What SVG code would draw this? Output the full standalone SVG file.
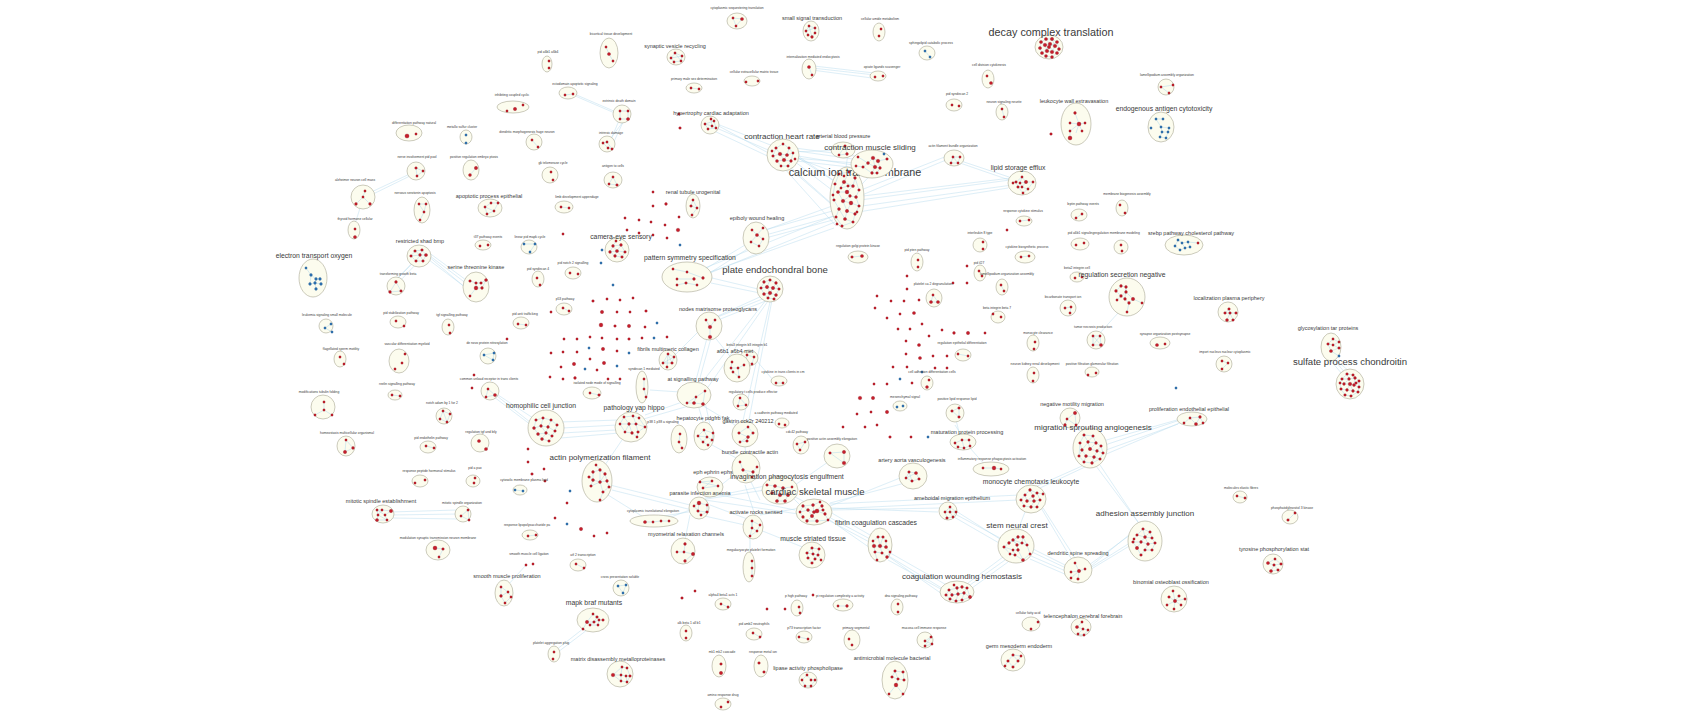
<svg xmlns="http://www.w3.org/2000/svg" width="1685" height="718" viewBox="0 0 1685 718">
<style>
.c{fill:#fcfcee;stroke:#aaa893;stroke-width:.6}
.r{fill:#c61d2b;stroke:#7d0e14;stroke-width:.25}
.b{fill:#2f74b5;stroke:#1b4d7e;stroke-width:.25}
.e{stroke:#a8d4ea;stroke-width:.45;fill:none;opacity:.85}
.i{stroke:#a8d4ea;stroke-width:.45;fill:none}
text{font-family:"Liberation Sans",Arial,sans-serif;fill:#3a3a3a;text-anchor:middle}
.s{font-size:3.3px}.m{font-size:5.5px}.l{font-size:6.8px}.x{font-size:8px}.y{font-size:9.6px}.z{font-size:10.8px}
</style>
<rect width="1685" height="718" fill="#fff"/>
<g id="connectors" class="e">
<path d="M712,122L778,148M714,127L780,155M712,130L776,160M715,124L785,162"/>
<path d="M786,150L840,185M790,158L845,200M780,160L838,210M788,165L850,220M775,150L842,175M792,152L848,190M784,168L836,226"/>
<path d="M790,150L860,160M792,155L865,167M795,148L870,158M788,160L875,170M793,158L880,165"/>
<path d="M850,185L868,165M852,195L875,170M853,178L860,162"/>
<path d="M860,200L1010,180M862,206L1012,185M858,212L1008,188M863,196L1011,178"/>
<path d="M958,160L1012,178M960,163L1015,182M862,195L946,160M861,190L947,156"/>
<path d="M845,150L790,152M848,153L845,175"/>
<path d="M812,68L875,75M812,70L872,78M814,66L874,73"/>
<path d="M572,93L616,112M573,95L617,114"/>
<path d="M620,118L610,142M624,120L612,146M626,118L604,147"/>
<path d="M835,205L760,232M838,215L762,236M833,220L758,240M836,210L765,230"/>
<path d="M836,215L700,270M835,222L705,275M834,228L710,272"/>
<path d="M750,242L700,272M752,246L705,276M712,278L758,289M711,283L760,293"/>
<path d="M765,298L715,318M768,300L713,322M762,296L718,316"/>
<path d="M766,300L700,385M770,302L742,425M772,300L748,425M768,301L706,390"/>
<path d="M700,330L675,355M713,335L733,360M711,338L698,385M707,338L695,384"/>
<path d="M698,405L704,425M692,405L640,420M700,404L740,428M688,400L645,415M705,402L710,425"/>
<path d="M617,425L562,428M616,430L562,433M618,420L560,422M619,433L561,438"/>
<path d="M533,418L495,393M530,422L497,396M531,425L494,397"/>
<path d="M428,252L466,280M430,256L467,284M429,260L465,287M427,255L468,290"/>
<path d="M396,280L414,262M399,282L418,262M393,283L412,263"/>
<path d="M365,195L414,172M365,198L416,173M361,205L355,224"/>
<path d="M390,512L457,510M392,518L459,519M391,515L458,514"/>
<path d="M526,565L508,585M584,628L556,650M587,630L558,652"/>
<path d="M825,515L872,540M828,520L875,545M830,512L870,535M827,518L873,550"/>
<path d="M830,506L900,478M832,510L940,508M830,503L905,483M831,508L938,512M829,504L1020,495M830,509L1018,500"/>
<path d="M800,505L790,495M805,502L795,497"/>
<path d="M887,555L945,590M888,560L948,593M885,550L950,587M889,557L942,594"/>
<path d="M955,514L1000,538M956,511L1003,541M954,517L999,543"/>
<path d="M1032,552L1066,568M1031,556L1068,572M1033,549L1065,565M1030,559L1067,575"/>
<path d="M1089,565L1130,535M1090,568L1133,541M1088,571L1131,545M1091,566L1135,530"/>
<path d="M1005,560L970,585M1008,562L972,588M1003,557L968,583"/>
<path d="M1025,512L1018,530M1043,508L1075,558M1040,506L1072,560"/>
<path d="M1085,430L1073,425M1082,432L1075,428"/>
<path d="M1105,445L1180,420M1106,450L1178,424M1104,455L1182,422M1103,441L1184,418"/>
<path d="M1082,466L1035,487M1085,467L1040,488M1100,465L1140,525M1096,466L1138,522"/>
<path d="M1118,313L1100,333M1333,358L1345,373M1336,360L1350,372M1330,360L1343,375"/>
<path d="M960,436L956,420M970,448L985,465M955,425L962,436"/>
<path d="M750,480L760,500M700,500L765,490M705,498L770,485M640,520L700,510M760,515L800,508M710,505L750,520M745,485L755,515M715,490L740,470M720,495L795,510M705,500L805,515M690,510L660,521"/>
<path d="M605,465L622,440M610,485L690,505M612,490L692,510M608,495L645,518"/>
<path d="M712,445L740,460M745,447L746,455M795,485L828,462M756,360L773,380M650,390L680,392"/>
<path d="M750,535L750,553M760,530L805,548M690,515L685,540M700,515L745,525"/>
</g>
<g id="singletons" class="r">
<circle cx="679" cy="114" r="1.3"/><circle cx="680" cy="128" r="1.3"/>
<circle cx="653" cy="192" r="1.2"/><circle cx="666" cy="204" r="1.4"/><circle cx="653" cy="206" r="1.2"/><circle cx="679" cy="217" r="1.2"/><circle cx="625" cy="218" r="1.2"/><circle cx="639" cy="220" r="1.2"/><circle cx="651" cy="222" r="1.2"/><circle cx="665" cy="225" r="1.2"/><circle cx="627" cy="230" r="1.2"/><circle cx="639" cy="233" r="1.2"/><circle cx="678" cy="230" r="1.8"/><circle cx="653" cy="235" r="1.2"/><circle cx="667" cy="238" r="1.2"/><circle cx="563" cy="234" r="1.2"/>
<circle cx="593" cy="301" r="1.3"/><circle cx="607" cy="299" r="1.2"/><circle cx="620" cy="300" r="1.2"/><circle cx="633" cy="298" r="1.2"/><circle cx="551" cy="312" r="1.2"/><circle cx="602" cy="312" r="1.7"/><circle cx="617" cy="312" r="1.2"/><circle cx="630" cy="312" r="1.2"/><circle cx="646" cy="311" r="1.3"/><circle cx="601" cy="325" r="1.9"/><circle cx="615" cy="326" r="1.3"/><circle cx="629" cy="326" r="1.7"/><circle cx="645" cy="327" r="1.2"/><circle cx="564" cy="339" r="1.2"/><circle cx="577" cy="339" r="1.2"/><circle cx="590" cy="337" r="1.2"/><circle cx="602" cy="338" r="1.2"/><circle cx="617" cy="339" r="1.2"/><circle cx="629" cy="339" r="1.3"/><circle cx="642" cy="338" r="1.2"/><circle cx="667" cy="337" r="1.2"/><circle cx="551" cy="353" r="1.2"/><circle cx="563" cy="352" r="1.2"/><circle cx="577" cy="352" r="1.2"/><circle cx="603" cy="349" r="1.7"/><circle cx="617" cy="351" r="1.2"/><circle cx="590" cy="359" r="1.2"/><circle cx="604" cy="363" r="1.7"/><circle cx="574" cy="364" r="1.7"/><circle cx="561" cy="367" r="1.2"/><circle cx="597" cy="370" r="1.2"/><circle cx="550" cy="377" r="1.2"/><circle cx="563" cy="379" r="1.2"/><circle cx="575" cy="378" r="1.4"/><circle cx="608" cy="379" r="1.2"/><circle cx="620" cy="379" r="1.2"/>
<circle class="b" cx="602" cy="250" r="1.2"/><circle class="b" cx="601" cy="263" r="1.2"/><circle class="b" cx="680" cy="245" r="1.2"/><circle class="b" cx="613" cy="285" r="1.2"/><circle class="b" cx="657" cy="323" r="1.2"/><circle class="b" cx="654" cy="338" r="1.2"/><circle class="b" cx="589" cy="348" r="1.2"/><circle class="b" cx="629" cy="353" r="1.2"/><circle class="b" cx="585" cy="369" r="1.2"/><circle class="b" cx="617" cy="366" r="1.2"/>
<circle cx="507" cy="339" r="1.2"/><circle cx="474" cy="375" r="1.2"/><circle cx="472" cy="388" r="1.2"/><circle cx="528" cy="449" r="1.2"/><circle cx="528" cy="462" r="1.2"/><circle cx="544" cy="469" r="1.2"/><circle cx="532" cy="474" r="1.3"/><circle cx="545" cy="481" r="1.2"/>
<circle cx="567" cy="503" r="1.2"/><circle cx="555" cy="518" r="1.2"/><circle cx="581" cy="529" r="1.7"/><circle cx="594" cy="536" r="1.2"/><circle cx="607" cy="533" r="1.2"/><circle class="b" cx="570" cy="491" r="1.2"/><circle class="b" cx="567" cy="524" r="1.2"/>
<circle cx="682" cy="598" r="1.3"/><circle cx="695" cy="591" r="1.2"/><circle cx="767" cy="609" r="1.2"/><circle cx="785" cy="609" r="1.2"/><circle cx="813" cy="595" r="1.2"/><circle cx="843" cy="427" r="1.2"/>
<circle cx="1051" cy="134" r="1.3"/><circle cx="1007" cy="230" r="1.2"/>
<circle cx="967" cy="266" r="1.2"/><circle cx="907" cy="276" r="1.2"/><circle cx="953" cy="283" r="1.2"/><circle cx="967" cy="283" r="1.2"/><circle cx="907" cy="289" r="1.2"/><circle cx="877" cy="296" r="1.2"/><circle cx="891" cy="301" r="1.2"/><circle cx="904" cy="301" r="1.2"/><circle cx="919" cy="300" r="1.2"/><circle cx="875" cy="308" r="1.2"/><circle cx="900" cy="314" r="1.2"/><circle cx="914" cy="313" r="1.6"/><circle cx="887" cy="318" r="1.2"/><circle cx="922" cy="324" r="1.2"/><circle cx="898" cy="329" r="1.2"/><circle cx="910" cy="329" r="1.2"/><circle cx="942" cy="330" r="1.2"/><circle cx="954" cy="333" r="1.4"/><circle cx="968" cy="333" r="1.7"/><circle cx="985" cy="333" r="1.2"/><circle cx="906" cy="341" r="1.2"/><circle cx="919" cy="345" r="1.6"/><circle cx="929" cy="336" r="1.2"/><circle cx="906" cy="354" r="1.2"/><circle cx="920" cy="358" r="1.6"/><circle cx="933" cy="356" r="1.2"/><circle cx="947" cy="356" r="1.2"/><circle cx="893" cy="367" r="1.2"/><circle cx="907" cy="367" r="1.2"/><circle cx="935" cy="368" r="1.2"/><circle cx="947" cy="368" r="1.2"/><circle cx="874" cy="384" r="1.2"/><circle cx="887" cy="384" r="1.2"/><circle cx="912" cy="383" r="1.2"/><circle cx="860" cy="398" r="1.8"/><circle cx="873" cy="398" r="1.7"/><circle cx="887" cy="412" r="1.7"/><circle cx="857" cy="414" r="1.2"/><circle cx="871" cy="412" r="1.2"/><circle cx="877" cy="425" r="1.2"/><circle cx="865" cy="427" r="1.2"/><circle cx="890" cy="437" r="1.3"/><circle cx="911" cy="437" r="1.2"/>
<circle class="b" cx="900" cy="379" r="1.2"/><circle class="b" cx="922" cy="372" r="1.2"/><circle class="b" cx="928" cy="437" r="1.2"/><circle class="b" cx="1176" cy="388" r="1.2"/>
</g>
<g id="n1"><ellipse class="c" cx="737" cy="21" rx="10" ry="8"/><g class="r" transform="translate(737,21)"><path class="i" d="M-4-3L5-2L-1,5Z"/><circle cx="-4" cy="-3" r="1.2"/><circle cx="5" cy="-2" r="1.6"/><circle cx="-1" cy="5" r="1.2"/></g><text class="s" x="737" y="9">cytoplasmic sequestering translation</text></g>
<g id="n2"><ellipse class="c" cx="811" cy="31" rx="8" ry="10"/><g class="r" transform="translate(811,31)"><path class="i" d="M-2-5L4-3L4,2L1,6L-3,4L-5,0ZM-2-5L1,6M4-3L-5,0"/><circle cx="-2" cy="-5" r="1.2"/><circle cx="4" cy="-3" r="1.2"/><circle cx="-5" cy="0" r="1.2"/><circle cx="4" cy="2" r="1.2"/><circle cx="1" cy="6" r="1.4"/><circle cx="-3" cy="4" r="1.2"/></g><text class="m" x="812" y="20">small signal transduction</text></g>
<g id="n3"><ellipse class="c" cx="609" cy="53" rx="9" ry="15"/><g class="r" transform="translate(609,53)"><path class="i" d="M-3-6L0,1L4,8"/><circle cx="-3" cy="-6" r="1.2"/><circle cx="0" cy="1" r="1.6"/><circle cx="4" cy="8" r="1.2"/></g><text class="s" x="611" y="35">bicortical tissue development</text></g>
<g id="n4"><ellipse class="c" cx="676" cy="57" rx="9" ry="8"/><g class="r" transform="translate(676,57)"><path class="i" d="M-1-4L6-1L5,4L-2,5L-5,1ZM-1-4L5,4M6-1L-5,1"/><circle cx="-1" cy="-4" r="1.2"/><circle cx="6" cy="-1" r="1.2"/><circle cx="-5" cy="1" r="1.2"/><circle cx="5" cy="4" r="1.2"/><circle cx="-2" cy="5" r="1.2"/></g><text class="m" x="675" y="48">synaptic vesicle recycling</text></g>
<g id="n5"><ellipse class="c" cx="809" cy="69" rx="7" ry="10"/><g class="r" transform="translate(809,69)"><path class="i" d="M0-2L3,6"/><circle cx="0" cy="-2" r="1.6"/><circle cx="3" cy="6" r="1.2"/></g><text class="s" x="813" y="58">internalization mediated endocytosis</text></g>
<g id="n6"><ellipse class="c" cx="752" cy="81" rx="8" ry="5"/><g class="r" transform="translate(752,81)"><circle cx="-6" cy="1" r="1.2"/><circle cx="6" cy="0" r="1.2"/></g><text class="s" x="754" y="73">cellular extracellular matrix tissue</text></g>
<g id="n7"><ellipse class="c" cx="694" cy="88" rx="8" ry="5"/><g class="r" transform="translate(694,88)"><path class="i" d="M-3,0L5,1"/><circle cx="-3" cy="0" r="1.2"/><circle cx="5" cy="1" r="1.2"/></g><text class="s" x="694" y="80">primary male sex determination</text></g>
<g id="n8"><ellipse class="c" cx="622" cy="114" rx="9" ry="9"/><g class="r" transform="translate(622,114)"><path class="i" d="M-2-3L-2,5L6,5L6-3Z"/><circle cx="-2" cy="-3" r="1.2"/><circle cx="-2" cy="5" r="1.2"/><circle cx="6" cy="5" r="1.6"/><circle cx="6" cy="-3" r="1.2"/></g><text class="s" x="619" y="102">extrinsic death domain</text></g>
<g id="n9"><ellipse class="c" cx="607" cy="144" rx="8" ry="8"/><g class="r" transform="translate(607,144)"><path class="i" d="M-4-1L0-2L5,5L1,4Z"/><circle cx="-4" cy="-1" r="1.2"/><circle cx="0" cy="-2" r="1.2"/><circle cx="5" cy="5" r="1.2"/><circle cx="1" cy="4" r="1.2"/></g><text class="s" x="611" y="134">intrinsic damage</text></g>
<g id="n10"><ellipse class="c" cx="710" cy="125" rx="9" ry="9"/><g class="r" transform="translate(710,125)"><path class="i" d="M-5-1L4-4L6,3L-2,4ZM1-6L2,1L-5-1M2,1L6,3"/><circle cx="-5" cy="-1" r="1.2"/><circle cx="4" cy="-4" r="1.2"/><circle cx="-2" cy="4" r="1.2"/><circle cx="6" cy="3" r="1.2"/><circle cx="1" cy="-6" r="1.2"/><circle cx="2" cy="1" r="1.2"/></g><text class="m" x="711" y="115">hypertrophy cardiac adaptation</text></g>
<g id="n11"><ellipse class="c" cx="783" cy="155" rx="16" ry="16"/><g class="r" transform="translate(783,155)"><path class="i" d="M-7-7L0-11L6-7L10-2L8,6L5,11L-2,11L-6,6L-10,1ZM-3-1L4,0L1,5ZM-7-7L-3-1L-10,1M6-7L4,0L10-2M-6,6L1,5L8,6"/><circle cx="-7" cy="-7" r="1.3"/><circle cx="0" cy="-11" r="1.2"/><circle cx="6" cy="-7" r="1.3"/><circle cx="-10" cy="1" r="1.3"/><circle cx="-3" cy="-1" r="1.8"/><circle cx="4" cy="0" r="1.6"/><circle cx="10" cy="-2" r="1.2"/><circle cx="-6" cy="6" r="1.5"/><circle cx="1" cy="5" r="1.8"/><circle cx="8" cy="6" r="1.4"/><circle cx="-2" cy="11" r="1.2"/><circle cx="5" cy="11" r="1.3"/><circle cx="-11" cy="-4" r="1.2"/><circle cx="12" cy="4" r="1.2"/></g><text class="x" x="782" y="139">contraction heart rate</text></g>
<g id="n12"><ellipse class="c" cx="843" cy="150" rx="12" ry="8"/><g class="r" transform="translate(843,150)"><path class="i" d="M2-4L-4,5L4,4Z"/><circle cx="2" cy="-4" r="1.3"/><circle cx="-4" cy="5" r="1.2"/><circle cx="4" cy="4" r="1.4"/></g><text class="m" x="843" y="138">arterial blood pressure</text></g>
<g id="n13"><ellipse class="c" cx="847" cy="198" rx="17" ry="31"/><g class="r" transform="translate(847,198)"><path class="i" d="M-8-24L2-26L8-20L12-8L9-1L12,8L8,16L6,24L-5,28L-11,19L-8,11L-13,2L-14-3L-12-14ZM-3-16L6-12L0-6L-9-6ZM-4,3L4,5L0,13ZM2-26L-3-16M8-20L6-12M0-6L3-2L9-1M-9-6L-4,3M4,5L12,8M0,13L8,16M0,13L-2,21L6,24M-8,11L-2,21M-6-10L1-12L6-12M3-2L-4,3M10,14L8,16"/><circle cx="-8" cy="-24" r="1.3"/><circle cx="2" cy="-26" r="1.3"/><circle cx="8" cy="-20" r="1.4"/><circle cx="-12" cy="-14" r="1.3"/><circle cx="-3" cy="-16" r="1.8"/><circle cx="6" cy="-12" r="1.5"/><circle cx="12" cy="-8" r="1.3"/><circle cx="-9" cy="-6" r="1.6"/><circle cx="0" cy="-6" r="1.9"/><circle cx="9" cy="-1" r="1.5"/><circle cx="-13" cy="2" r="1.3"/><circle cx="-4" cy="3" r="1.8"/><circle cx="4" cy="5" r="1.9"/><circle cx="12" cy="8" r="1.3"/><circle cx="-8" cy="11" r="1.5"/><circle cx="0" cy="13" r="1.7"/><circle cx="8" cy="16" r="1.4"/><circle cx="-11" cy="19" r="1.3"/><circle cx="-2" cy="21" r="1.6"/><circle cx="6" cy="24" r="1.3"/><circle cx="-5" cy="28" r="1.3"/><circle cx="3" cy="-2" r="1.4"/><circle cx="-6" cy="-10" r="1.2"/><circle cx="10" cy="14" r="1.2"/><circle cx="-14" cy="-3" r="1.2"/><circle cx="1" cy="-12" r="1.3"/><circle cx="-10" cy="26" r="1.2"/><circle cx="-3" cy="-22" r="1.2"/></g><text class="z" x="855" y="176">calcium ion transmembrane</text></g>
<g id="n14"><ellipse class="c" cx="872" cy="164" rx="21" ry="14"/><g class="r" transform="translate(872,164)"><path class="i" d="M1-6L6-3L15-5M1-6L-4-1L3,3L8,4L6-3M-4-1L-9,3L0,9L5,9L8,4M-14-7L-4-1M-16,2L-9,3M3,3L0,9M1-6L3,3"/><circle cx="1" cy="-6" r="1.8"/><circle cx="6" cy="-3" r="1.8"/><circle cx="15" cy="-5" r="1.3"/><circle cx="-4" cy="-1" r="1.5"/><circle cx="3" cy="3" r="1.8"/><circle cx="8" cy="4" r="1.4"/><circle class="b" cx="12" cy="-10" r="1.2"/><circle cx="0" cy="9" r="1.4"/><circle cx="5" cy="9" r="1.3"/><circle cx="-14" cy="-7" r="1.2"/><circle cx="-9" cy="3" r="1.3"/><circle cx="-16" cy="2" r="1.2"/></g><text class="x" x="870" y="150">contraction muscle sliding</text></g>
<g id="n15"><ellipse class="c" cx="879" cy="32" rx="6" ry="9"/><g class="r" transform="translate(879,32)"><circle cx="2" cy="-3" r="1.2"/><circle cx="0" cy="4" r="1.2"/></g><text class="s" x="880" y="20">cellular amide metabolism</text></g>
<g id="n16"><ellipse class="c" cx="927" cy="53" rx="8" ry="7"/><g class="b" transform="translate(927,53)"><path class="i" d="M-2-2L3,4"/><circle cx="-2" cy="-2" r="1.2"/><circle cx="3" cy="4" r="1.2"/></g><text class="s" x="931" y="44">sphingolipid catabolic process</text></g>
<g id="n17"><ellipse class="c" cx="878" cy="76" rx="8" ry="5"/><g class="r" transform="translate(878,76)"><circle cx="-3" cy="1" r="1.2"/><circle cx="5" cy="0" r="1.2"/></g><text class="s" x="882" y="68">opiate ligands scavenger</text></g>
<g id="n18"><ellipse class="c" cx="988" cy="79" rx="6" ry="9"/><g class="r" transform="translate(988,79)"><circle cx="-1" cy="-3" r="1.2"/><circle cx="3" cy="4" r="1.6"/></g><text class="s" x="989" y="66">cell division cytokinesis</text></g>
<g id="n19"><ellipse class="c" cx="1049" cy="47" rx="14" ry="12"/><g class="r" transform="translate(1049,47)"><path class="i" d="M-8-5L-3-8L3-8L8-5L10,2L8,6L3,10L-3,9L-7,6L-9,1ZM-4-2L1-3L6-1L3,5L-2,4ZM0,0L-8-5M0,0L8-5M0,0L-7,6M0,0L8,6M-3-8L1-3M3-8L6-1"/><circle cx="-8" cy="-5" r="1.6"/><circle cx="-3" cy="-8" r="1.6"/><circle cx="3" cy="-8" r="1.7"/><circle cx="8" cy="-5" r="1.6"/><circle cx="-9" cy="1" r="1.6"/><circle cx="-4" cy="-2" r="1.8"/><circle cx="1" cy="-3" r="1.8"/><circle cx="6" cy="-1" r="1.8"/><circle cx="10" cy="2" r="1.5"/><circle cx="-7" cy="6" r="1.6"/><circle cx="-2" cy="4" r="1.8"/><circle cx="3" cy="5" r="1.8"/><circle cx="8" cy="6" r="1.6"/><circle cx="-3" cy="9" r="1.5"/><circle cx="3" cy="10" r="1.5"/><circle cx="0" cy="0" r="1.7"/></g><text class="z" x="1051" y="36">decay complex translation</text></g>
<g id="n20"><ellipse class="c" cx="954" cy="105" rx="8" ry="6"/><g class="r" transform="translate(954,105)"><circle cx="-2" cy="0" r="1.2"/><circle cx="5" cy="1" r="1.2"/></g><text class="s" x="957" y="95">pid syndecan 2</text></g>
<g id="n21"><ellipse class="c" cx="1002" cy="112" rx="6" ry="8"/><g class="r" transform="translate(1002,112)"><path class="i" d="M0-3L2,5"/><circle cx="0" cy="-3" r="1.2"/><circle cx="2" cy="5" r="1.2"/></g><text class="s" x="1004" y="103">neuron signaling neurite</text></g>
<g id="n22"><ellipse class="c" cx="1076" cy="124" rx="15" ry="21"/><g class="r" transform="translate(1076,124)"><path class="i" d="M-1-11L3,0L-6-1M3,0L9-1M3,0L6,7M3,0L-6,7M-6,7L-6,14M3,0L0,9"/><circle cx="-6" cy="-1" r="1.2"/><circle cx="-1" cy="-11" r="1.4"/><circle cx="3" cy="0" r="2"/><circle cx="9" cy="-1" r="1.2"/><circle cx="-6" cy="7" r="1.2"/><circle cx="6" cy="7" r="1.2"/><circle cx="-6" cy="14" r="2"/></g><text class="m" x="1074" y="103">leukocyte wall extravasation</text></g>
<g id="n23"><ellipse class="c" cx="1166" cy="87" rx="8" ry="8"/><g class="r" transform="translate(1166,87)"><path class="i" d="M-5,0L7-2M-5,0L3,6"/><circle cx="-5" cy="0" r="1.2"/><circle cx="7" cy="-2" r="1.2"/><circle cx="3" cy="6" r="1.2"/></g><text class="s" x="1167" y="76">lamellipodium assembly organization</text></g>
<g id="n24"><ellipse class="c" cx="1161" cy="127" rx="13" ry="15"/><g class="b" transform="translate(1161,127)"><path class="i" d="M-5-8L2-8M0,0L8,1L7,5L1,5ZM1,5L-1,10L5,11L7,5M-5-8L0,0"/><circle cx="-5" cy="-8" r="1.2"/><circle cx="2" cy="-8" r="1.2"/><circle cx="-10" cy="1" r="1.2"/><circle cx="0" cy="0" r="1.2"/><circle cx="8" cy="1" r="1.2"/><circle cx="1" cy="5" r="1.2"/><circle cx="7" cy="5" r="1.2"/><circle cx="-1" cy="10" r="1.2"/><circle cx="5" cy="11" r="1.2"/></g><text class="l" x="1164" y="111">endogenous antigen cytotoxicity</text></g>
<g id="n25"><ellipse class="c" cx="954" cy="158" rx="10" ry="8"/><g class="r" transform="translate(954,158)"><path class="i" d="M-1-1L6-1L4,5L-3,5ZM-1-1L4,5"/><circle cx="-1" cy="-1" r="1.2"/><circle cx="6" cy="-1" r="1.2"/><circle cx="-3" cy="5" r="1.2"/><circle cx="4" cy="5" r="1.2"/></g><text class="s" x="953" y="147">actin filament bundle organization</text></g>
<g id="n26"><ellipse class="c" cx="1022" cy="183" rx="14" ry="12"/><g class="r" transform="translate(1022,183)"><path class="i" d="M0-6L-6-1L-4,4L1,10L6,6L11-1L4-1ZM0-6L-2,0L0,4L6,6M-2,0L4-1L0,4M-9,0L-6-1"/><circle cx="0" cy="-6" r="1.2"/><circle cx="-6" cy="-1" r="1.3"/><circle cx="-2" cy="0" r="1.2"/><circle cx="4" cy="-1" r="1.7"/><circle cx="11" cy="-1" r="1.2"/><circle cx="-4" cy="4" r="1.3"/><circle cx="0" cy="4" r="1.2"/><circle cx="6" cy="6" r="1.2"/><circle cx="1" cy="10" r="1.2"/><circle cx="-9" cy="0" r="1.2"/></g><text class="l" x="1018" y="170">lipid storage efflux</text></g>
<g id="n27"><ellipse class="c" cx="1122" cy="208" rx="6" ry="8"/><g class="r" transform="translate(1122,208)"><circle cx="-2" cy="-3" r="1.2"/><circle cx="3" cy="5" r="1.2"/></g><text class="s" x="1127" y="195">membrane biogenesis assembly</text></g>
<g id="n28"><ellipse class="c" cx="1079" cy="215" rx="8" ry="6"/><g class="r" transform="translate(1079,215)"><path class="i" d="M-3,3L3-1"/><circle cx="-3" cy="3" r="1.2"/><circle cx="3" cy="-1" r="1.2"/></g><text class="s" x="1083" y="205">leptin pathway events</text></g>
<g id="n29"><ellipse class="c" cx="1024" cy="221" rx="8" ry="5"/><g class="r" transform="translate(1024,221)"><path class="i" d="M-4,0L5-1"/><circle cx="-4" cy="0" r="1.2"/><circle cx="5" cy="-1" r="1.2"/></g><text class="s" x="1023" y="212">response cytokine stimulus</text></g>
<g id="n30"><ellipse class="c" cx="1184" cy="245" rx="19" ry="10"/><g class="b" transform="translate(1184,245)"><path class="i" d="M-9,1L-6-5L-2-2L1,3L-4,5ZM-2-2L4-3L6,2L1,3M4-3L14-2"/><circle cx="-9" cy="1" r="1.2"/><circle cx="-6" cy="-5" r="1.2"/><circle cx="-2" cy="-2" r="1.2"/><circle cx="1" cy="3" r="1.2"/><circle cx="4" cy="-3" r="1.2"/><circle cx="6" cy="2" r="1.2"/><circle class="r" cx="14" cy="-2" r="1.2"/><circle cx="-4" cy="5" r="1.2"/></g><text class="m" x="1191" y="235">srebp pathway cholesterol pathway</text></g>
<g id="n31"><ellipse class="c" cx="1121" cy="247" rx="7" ry="7"/><g class="r" transform="translate(1121,247)"><circle cx="0" cy="-2" r="1.2"/><circle cx="1" cy="4" r="1.2"/></g><text class="s" x="1117" y="234">regulation membrane modeling</text></g>
<g id="n32"><ellipse class="c" cx="1080" cy="244" rx="9" ry="6"/><g class="r" transform="translate(1080,244)"><circle cx="-4" cy="1" r="1.2"/><circle cx="4" cy="-1" r="1.2"/></g><text class="s" x="1081" y="234">pid a6b1 signaling</text></g>
<g id="n33"><ellipse class="c" cx="980" cy="245" rx="7" ry="7"/><g class="r" transform="translate(980,245)"><circle cx="3" cy="-3" r="1.2"/><circle cx="3" cy="4" r="1.2"/></g><text class="s" x="980" y="234">interleukin 8 type</text></g>
<g id="n34"><ellipse class="c" cx="547" cy="64" rx="5" ry="8"/><g class="r" transform="translate(547,64)"><circle cx="2" cy="-3" r="1.2"/><circle cx="2" cy="4" r="1.2"/></g><text class="s" x="548" y="53">pid a6b1 a6b4</text></g>
<g id="n35"><ellipse class="c" cx="568" cy="93" rx="9" ry="6"/><g class="r" transform="translate(568,93)"><path class="i" d="M-3,2L5,1"/><circle cx="-3" cy="2" r="1.2"/><circle cx="5" cy="1" r="1.2"/></g><text class="s" x="575" y="85">ectodomain apoptotic signaling</text></g>
<g id="n36"><ellipse class="c" cx="513" cy="107" rx="16" ry="6"/><g class="r" transform="translate(513,107)"><circle cx="-6" cy="4" r="1.2"/><circle cx="2" cy="2" r="1.7"/><circle cx="10" cy="-2" r="1.2"/></g><text class="s" x="512" y="96">inhibiting coupled cyclic</text></g>
<g id="n37"><ellipse class="c" cx="409" cy="133" rx="13" ry="8"/><g class="r" transform="translate(409,133)"><circle cx="-2" cy="3" r="2.1"/><circle cx="7" cy="1" r="1.2"/></g><text class="s" x="414" y="124">differentiation pathway natural</text></g>
<g id="n38"><ellipse class="c" cx="466" cy="137" rx="6" ry="7"/><g class="b" transform="translate(466,137)"><circle cx="0" cy="-2" r="1.2"/><circle cx="0" cy="6" r="1.2"/></g><text class="s" x="462" y="128">metallo sulfur cluster</text></g>
<g id="n39"><ellipse class="c" cx="534" cy="142" rx="8" ry="8"/><g class="r" transform="translate(534,142)"><path class="i" d="M-2-2L4,5"/><circle cx="-2" cy="-2" r="1.2"/><circle cx="4" cy="5" r="1.2"/></g><text class="s" x="527" y="133">dendritic morphogenesis huge neuron</text></g>
<g id="n40"><ellipse class="c" cx="416" cy="171" rx="9" ry="9"/><g class="r" transform="translate(416,171)"><path class="i" d="M0-3L7,0L1,5Z"/><circle cx="0" cy="-3" r="1.3"/><circle cx="7" cy="0" r="1.2"/><circle cx="1" cy="5" r="1.2"/></g><text class="s" x="417" y="158">nerve involvement pid pool</text></g>
<g id="n41"><ellipse class="c" cx="471" cy="170" rx="8" ry="10"/><g class="r" transform="translate(471,170)"><path class="i" d="M5-2L-1,5"/><circle cx="5" cy="-2" r="1.7"/><circle cx="-1" cy="5" r="1.5"/></g><text class="s" x="474" y="158">positive regulation embryo ptosis</text></g>
<g id="n42"><ellipse class="c" cx="550" cy="175" rx="8" ry="8"/><g class="r" transform="translate(550,175)"><circle cx="1" cy="-3" r="1.2"/><circle cx="3" cy="5" r="1.2"/></g><text class="s" x="553" y="164">gk telomerase cycle</text></g>
<g id="n43"><ellipse class="c" cx="363" cy="197" rx="12" ry="12"/><g class="r" transform="translate(363,197)"><path class="i" d="M2-6L0,0L-7,7M0,0L7,7"/><circle cx="2" cy="-6" r="1.2"/><circle cx="0" cy="0" r="1.2"/><circle cx="-7" cy="7" r="1.4"/><circle cx="7" cy="7" r="1.4"/></g><text class="s" x="355" y="181">alzheimer neuron cell mass</text></g>
<g id="n44"><ellipse class="c" cx="422" cy="210" rx="8" ry="13"/><g class="r" transform="translate(422,210)"><path class="i" d="M-3-6L4-6L2,2L-2,10M-3-6L2,2"/><circle cx="-3" cy="-6" r="1.2"/><circle cx="4" cy="-6" r="1.2"/><circle cx="2" cy="2" r="1.2"/><circle cx="-2" cy="10" r="1.2"/></g><text class="s" x="415" y="194">nervous serotonin apoptosis</text></g>
<g id="n45"><ellipse class="c" cx="490" cy="208" rx="12" ry="9"/><g class="r" transform="translate(490,208)"><path class="i" d="M-5-1L1-5L8-5L4,3L-3,6ZM-5-1L4,3"/><circle cx="-5" cy="-1" r="1.2"/><circle cx="1" cy="-5" r="1.2"/><circle cx="8" cy="-5" r="1.2"/><circle cx="4" cy="3" r="1.2"/><circle cx="-3" cy="6" r="1.2"/></g><text class="m" x="489" y="198">apoptotic process epithelial</text></g>
<g id="n46"><ellipse class="c" cx="354" cy="230" rx="6" ry="9"/><g class="r" transform="translate(354,230)"><circle cx="1" cy="-1" r="1.2"/><circle cx="1" cy="7" r="1.6"/></g><text class="s" x="355" y="220">thyroid hormone cellular</text></g>
<g id="n47"><ellipse class="c" cx="483" cy="245" rx="8" ry="5"/><g class="r" transform="translate(483,245)"><circle cx="-3" cy="1" r="1.2"/><circle cx="5" cy="0" r="1.2"/></g><text class="s" x="488" y="238">t37 pathway events</text></g>
<g id="n48"><ellipse class="c" cx="529" cy="247" rx="8" ry="7"/><g class="b" transform="translate(529,247)"><path class="i" d="M-5-3L6-3L1,5"/><circle cx="-5" cy="-3" r="1.2"/><circle cx="6" cy="-3" r="1.2"/><circle cx="1" cy="5" r="1.2"/></g><text class="s" x="530" y="238">linear pid mapk cycle</text></g>
<g id="n49"><ellipse class="c" cx="613" cy="180" rx="9" ry="8"/><g class="r" transform="translate(613,180)"><path class="i" d="M0-3L-4,4L4,5Z"/><circle cx="0" cy="-3" r="1.2"/><circle cx="-4" cy="4" r="1.2"/><circle cx="4" cy="5" r="1.3"/></g><text class="s" x="613" y="167">antigen to cells</text></g>
<g id="n50"><ellipse class="c" cx="564" cy="207" rx="9" ry="6"/><g class="r" transform="translate(564,207)"><path class="i" d="M-3,0L5,1"/><circle cx="-3" cy="0" r="1.2"/><circle cx="5" cy="1" r="1.2"/></g><text class="s" x="577" y="198">limb development appendage</text></g>
<g id="n51"><ellipse class="c" cx="693" cy="206" rx="7" ry="12"/><g class="r" transform="translate(693,206)"><path class="i" d="M0-6L-2,0L4,2L-1,9M0-6L4,2"/><circle cx="0" cy="-6" r="1.2"/><circle cx="-2" cy="0" r="1.3"/><circle cx="4" cy="2" r="1.2"/><circle cx="-1" cy="9" r="1.2"/></g><text class="m" x="693" y="194">renal tubule urogenital</text></g>
<g id="n52"><ellipse class="c" cx="756" cy="238" rx="13" ry="16"/><g class="r" transform="translate(756,238)"><path class="i" d="M-4-8L1-3L7-10M1-3L-5,4L3,8L7,1L1-3"/><circle cx="1" cy="-3" r="1.6"/><circle cx="-4" cy="-8" r="1.2"/><circle cx="7" cy="-10" r="1.2"/><circle cx="-5" cy="4" r="1.2"/><circle cx="3" cy="8" r="1.2"/><circle cx="7" cy="1" r="1.2"/></g><text class="m" x="757" y="220">epiboly wound healing</text></g>
<g id="n53"><ellipse class="c" cx="617" cy="250" rx="12" ry="12"/><g class="r" transform="translate(617,250)"><path class="i" d="M-4-4L4-5L8,2L5,7L-2,6L-7,2ZM0,1L-4-4M0,1L4-5M0,1L8,2M0,1L5,7M0,1L-2,6M0,1L-7,2M-1-9L-4-4"/><circle cx="-4" cy="-4" r="1.4"/><circle cx="4" cy="-5" r="1.4"/><circle cx="-7" cy="2" r="1.4"/><circle cx="0" cy="1" r="1.6"/><circle cx="8" cy="2" r="1.3"/><circle cx="-2" cy="6" r="1.4"/><circle cx="5" cy="7" r="1.3"/><circle cx="-1" cy="-9" r="1.2"/></g><text class="l" x="621" y="239">camera-eye sensory</text></g>
<g id="n54"><ellipse class="c" cx="687" cy="277" rx="25" ry="15"/><g class="r" transform="translate(687,277)"><path class="i" d="M-14-8L0-5L16,1M-10,2L7,2M-1,6L10,8M-10,8L-1,6"/><circle cx="-14" cy="-8" r="1.2"/><circle cx="0" cy="-5" r="1.2"/><circle cx="-10" cy="2" r="1.2"/><circle cx="7" cy="2" r="1.4"/><circle cx="16" cy="1" r="1.4"/><circle cx="-1" cy="6" r="1.3"/><circle cx="10" cy="8" r="1.2"/><circle cx="-10" cy="8" r="1.2"/></g><text class="l" x="690" y="260">pattern symmetry specification</text></g>
<g id="n55"><ellipse class="c" cx="770" cy="289" rx="13" ry="13"/><g class="r" transform="translate(770,289)"><path class="i" d="M-6-7L0-9L6-6L9,0L6,6L4,10L-2,9L-6,5L-9-1ZM-3-2L3-1L0,4ZM0-9L-3-2M6-6L3-1M9,0L3-1M-9-1L-3-2M-6,5L0,4M6,6L0,4M-2,9L0,4"/><circle cx="-6" cy="-7" r="1.4"/><circle cx="0" cy="-9" r="1.3"/><circle cx="6" cy="-6" r="1.4"/><circle cx="-9" cy="-1" r="1.3"/><circle cx="-3" cy="-2" r="1.7"/><circle cx="3" cy="-1" r="1.7"/><circle cx="9" cy="0" r="1.3"/><circle cx="-6" cy="5" r="1.5"/><circle cx="0" cy="4" r="1.8"/><circle cx="6" cy="6" r="1.5"/><circle cx="-2" cy="9" r="1.3"/><circle cx="4" cy="10" r="1.3"/></g><text class="y" x="775" y="273">plate endochondral bone</text></g>
<g id="n56"><ellipse class="c" cx="573" cy="273" rx="8" ry="6"/><g class="r" transform="translate(573,273)"><circle cx="-3" cy="0" r="1.2"/><circle cx="5" cy="1" r="1.2"/></g><text class="s" x="573" y="264">pid notch 2 signalling</text></g>
<g id="n57"><ellipse class="c" cx="564" cy="309" rx="8" ry="6"/><g class="r" transform="translate(564,309)"><path class="i" d="M-1-1L5,2"/><circle cx="-1" cy="-1" r="1.2"/><circle cx="5" cy="2" r="1.2"/></g><text class="s" x="565" y="300">p53 pathway</text></g>
<g id="n58"><ellipse class="c" cx="419" cy="256" rx="12" ry="11"/><g class="r" transform="translate(419,256)"><path class="i" d="M-4-5L3-6L7-1L4,5L-3,5L-8,0ZM1-1L-4-5M1-1L7-1M1-1L-3,5M1-1L4,5M1-1L-8,0M1-1L3-6"/><circle cx="-4" cy="-5" r="1.3"/><circle cx="3" cy="-6" r="1.3"/><circle cx="-8" cy="0" r="1.3"/><circle cx="1" cy="-1" r="1.4"/><circle cx="7" cy="-1" r="1.6"/><circle cx="-3" cy="5" r="1.3"/><circle cx="4" cy="5" r="1.3"/></g><text class="m" x="420" y="243">restricted shad bmp</text></g>
<g id="n59"><ellipse class="c" cx="313" cy="278" rx="14" ry="19"/><g class="b" transform="translate(313,278)"><path class="i" d="M-7-10L-2-3L3,1L7,1M-2-3L-3,6L2,5L8,6M3,1L2,5L3,11"/><circle cx="-7" cy="-10" r="1.2"/><circle cx="-2" cy="-3" r="1.4"/><circle cx="3" cy="1" r="1.4"/><circle cx="7" cy="1" r="1.4"/><circle cx="-3" cy="6" r="1.4"/><circle cx="2" cy="5" r="1.4"/><circle cx="8" cy="6" r="1.4"/><circle cx="3" cy="11" r="1.4"/></g><text class="l" x="314" y="258">electron transport oxygen</text></g>
<g id="n60"><ellipse class="c" cx="476" cy="287" rx="13" ry="15"/><g class="r" transform="translate(476,287)"><path class="i" d="M-6-6L0-4L5-4L10-7M0-4L0,1L6,1L10-7M0,1L-6,9"/><circle cx="-6" cy="-6" r="1.3"/><circle cx="0" cy="-4" r="1.3"/><circle cx="5" cy="-4" r="1.3"/><circle cx="10" cy="-7" r="1.5"/><circle cx="0" cy="1" r="1.9"/><circle cx="6" cy="1" r="1.4"/><circle cx="-6" cy="9" r="1.2"/></g><text class="m" x="476" y="269">serine threonine kinase</text></g>
<g id="n61"><ellipse class="c" cx="396" cy="286" rx="9" ry="9"/><g class="r" transform="translate(396,286)"><path class="i" d="M0-4L-6,6L5,5Z"/><circle cx="0" cy="-4" r="1.4"/><circle cx="-6" cy="6" r="1.4"/><circle cx="5" cy="5" r="1.3"/></g><text class="s" x="398" y="275">transforming growth beta</text></g>
<g id="n62"><ellipse class="c" cx="538" cy="279" rx="6" ry="8"/><g class="r" transform="translate(538,279)"><circle cx="-1" cy="-1" r="1.2"/><circle cx="2" cy="6" r="1.2"/></g><text class="s" x="538" y="270">pid syndecan 4</text></g>
<g id="n63"><ellipse class="c" cx="326" cy="326" rx="7" ry="7"/><g class="b" transform="translate(326,326)"><path class="i" d="M5-2L-1,2L6,6"/><circle cx="5" cy="-2" r="1.2"/><circle cx="-1" cy="2" r="1.2"/><circle cx="6" cy="6" r="1.2"/></g><text class="s" x="327" y="316">leukemia signaling small molecule</text></g>
<g id="n64"><ellipse class="c" cx="398" cy="322" rx="8" ry="6"/><g class="r" transform="translate(398,322)"><circle cx="-2" cy="-1" r="1.2"/><circle cx="6" cy="4" r="1.2"/></g><text class="s" x="401" y="314">pid stabilization pathway</text></g>
<g id="n65"><ellipse class="c" cx="448" cy="327" rx="6" ry="8"/><g class="r" transform="translate(448,327)"><circle cx="1" cy="-2" r="1.2"/><circle cx="2" cy="6" r="1.2"/></g><text class="s" x="452" y="316">tgf signalling pathway</text></g>
<g id="n66"><ellipse class="c" cx="521" cy="323" rx="8" ry="6"/><g class="r" transform="translate(521,323)"><path class="i" d="M-3,1L5,2"/><circle cx="-3" cy="1" r="1.2"/><circle cx="5" cy="2" r="1.2"/></g><text class="s" x="525" y="315">pid anti trafficking</text></g>
<g id="n67"><ellipse class="c" cx="340" cy="359" rx="6" ry="8"/><g class="r" transform="translate(340,359)"><circle cx="0" cy="-2" r="1.2"/><circle cx="4" cy="5" r="1.2"/></g><text class="s" x="341" y="350">flagellated sperm motility</text></g>
<g id="n68"><ellipse class="c" cx="399" cy="361" rx="10" ry="12"/><g class="r" transform="translate(399,361)"><circle cx="6" cy="-7" r="1.2"/><circle cx="3" cy="2" r="1.2"/><circle cx="-4" cy="8" r="1.2"/></g><text class="s" x="407" y="345">vascular differentiation myeloid</text></g>
<g id="n69"><ellipse class="c" cx="488" cy="356" rx="8" ry="8"/><g class="b" transform="translate(488,356)"><path class="i" d="M-4-1L6-3L5,4Z"/><circle cx="-4" cy="-1" r="1.2"/><circle cx="6" cy="-3" r="1.2"/><circle cx="5" cy="4" r="1.2"/></g><text class="s" x="487" y="344">de novo protein nitrosylation</text></g>
<g id="n70"><ellipse class="c" cx="490" cy="391" rx="9" ry="9"/><g class="r" transform="translate(490,391)"><path class="i" d="M-2-2L5,4L-4,6Z"/><circle cx="-2" cy="-2" r="1.2"/><circle cx="5" cy="4" r="1.6"/><circle cx="-4" cy="6" r="1.2"/></g><text class="s" x="489" y="380">common unload receptor in trans clients</text></g>
<g id="n71"><ellipse class="c" cx="395" cy="395" rx="7" ry="5"/><g class="r" transform="translate(395,395)"><path class="i" d="M-3,0L5,1"/><circle cx="-3" cy="0" r="1.2"/><circle cx="5" cy="1" r="1.2"/></g><text class="s" x="397" y="385">reelin signalling pathway</text></g>
<g id="n72"><ellipse class="c" cx="323" cy="407" rx="12" ry="12"/><g class="r" transform="translate(323,407)"><path class="i" d="M1-5L1,3L-8,8M1,3L9,8"/><circle cx="1" cy="-5" r="1.2"/><circle cx="1" cy="3" r="1.2"/><circle cx="-8" cy="8" r="1.2"/><circle cx="9" cy="8" r="1.2"/></g><text class="s" x="319" y="393">modifications tubulin folding</text></g>
<g id="n73"><ellipse class="c" cx="444" cy="416" rx="8" ry="8"/><g class="r" transform="translate(444,416)"><path class="i" d="M-1-5L6-2L3,6L-4,3ZM-1-5L3,6"/><circle cx="-1" cy="-5" r="1.2"/><circle cx="6" cy="-2" r="1.2"/><circle cx="-4" cy="3" r="1.2"/><circle cx="3" cy="6" r="1.2"/></g><text class="s" x="442" y="404">notch adam by 1 for 2</text></g>
<g id="n74"><ellipse class="c" cx="546" cy="428" rx="18" ry="18"/><g class="r" transform="translate(546,428)"><path class="i" d="M-10-8L-3-10L5-8L11-3L9,3L6,8L3,13L-4,11L-8,6L-12,0ZM-5-2L2-1L0,5ZM-3-10L-5-2M5-8L2-1M9,3L2-1M-8,6L0,5L6,8M-12,0L-5-2M-4,11L0,5"/><circle cx="-10" cy="-8" r="1.3"/><circle cx="-3" cy="-10" r="1.3"/><circle cx="5" cy="-8" r="1.3"/><circle cx="11" cy="-3" r="1.3"/><circle cx="-12" cy="0" r="1.5"/><circle cx="-5" cy="-2" r="1.4"/><circle cx="2" cy="-1" r="1.4"/><circle cx="9" cy="3" r="1.3"/><circle cx="-8" cy="6" r="1.5"/><circle cx="0" cy="5" r="1.4"/><circle cx="6" cy="8" r="1.3"/><circle cx="-4" cy="11" r="1.5"/><circle cx="3" cy="13" r="1.3"/></g><text class="l" x="541" y="408">homophilic cell junction</text></g>
<g id="n75"><ellipse class="c" cx="346" cy="446" rx="9" ry="10"/><g class="r" transform="translate(346,446)"><path class="i" d="M0-6L-1,6L7,2Z"/><circle cx="0" cy="-6" r="1.2"/><circle cx="7" cy="2" r="1.4"/><circle cx="-1" cy="6" r="1.7"/></g><text class="s" x="347" y="434">homeostasis multicellular organismal</text></g>
<g id="n76"><ellipse class="c" cx="428" cy="447" rx="8" ry="6"/><g class="r" transform="translate(428,447)"><path class="i" d="M-2-1L6,1"/><circle cx="-2" cy="-1" r="1.2"/><circle cx="6" cy="1" r="1.2"/></g><text class="s" x="431" y="439">pid endothelin pathway</text></g>
<g id="n77"><ellipse class="c" cx="480" cy="443" rx="9" ry="9"/><g class="r" transform="translate(480,443)"><circle cx="-1" cy="-2" r="1.6"/><circle cx="6" cy="6" r="1.6"/></g><text class="s" x="481" y="433">regulation tgf and bily</text></g>
<g id="n78"><ellipse class="c" cx="420" cy="481" rx="8" ry="6"/><g class="r" transform="translate(420,481)"><circle cx="-5" cy="2" r="1.2"/><circle cx="5" cy="-1" r="1.2"/></g><text class="s" x="429" y="472">response peptide hormonal stimulus</text></g>
<g id="n79"><ellipse class="c" cx="473" cy="481" rx="7" ry="6"/><g class="r" transform="translate(473,481)"><circle cx="1" cy="2" r="1.2"/><circle cx="2" cy="-3" r="1.2"/></g><text class="s" x="475" y="469">pid a pax</text></g>
<g id="n80"><ellipse class="c" cx="520" cy="490" rx="7" ry="5"/><g class="b" transform="translate(520,490)"><path class="i" d="M-5,0L3,1"/><circle cx="-5" cy="0" r="1.2"/><circle cx="3" cy="1" r="1.2"/></g><text class="s" x="524" y="481">cytosolic membrane plasma lipid</text></g>
<g id="n81"><ellipse class="c" cx="383" cy="514" rx="11" ry="9"/><g class="r" transform="translate(383,514)"><path class="i" d="M-6-4L-1-4L8-3L2,1L4,6L-6,6L-5,1ZM-6-4L2,1M-1-4L-5,1L4,6"/><circle cx="-6" cy="-4" r="1.2"/><circle cx="-1" cy="-4" r="1.2"/><circle cx="8" cy="-3" r="1.7"/><circle cx="-5" cy="1" r="1.2"/><circle cx="2" cy="1" r="1.2"/><circle cx="-6" cy="6" r="1.6"/><circle cx="4" cy="6" r="1.2"/></g><text class="m" x="381" y="503">mitotic spindle establishment</text></g>
<g id="n82"><ellipse class="c" cx="463" cy="514" rx="8" ry="8"/><g class="r" transform="translate(463,514)"><path class="i" d="M5-4L-2,2L6,6Z"/><circle cx="5" cy="-4" r="1.2"/><circle cx="-2" cy="2" r="1.2"/><circle cx="6" cy="6" r="1.2"/></g><text class="s" x="462" y="504">mitotic spindle organization</text></g>
<g id="n83"><ellipse class="c" cx="438" cy="550" rx="12" ry="10"/><g class="r" transform="translate(438,550)"><path class="i" d="M-3-2L5-1L1,7"/><circle cx="-3" cy="-2" r="2"/><circle cx="5" cy="-1" r="1.3"/><circle cx="1" cy="7" r="1.2"/></g><text class="s" x="438" y="539">modulation synaptic transmission neuron membrane</text></g>
<g id="n84"><ellipse class="c" cx="530" cy="535" rx="8" ry="5"/><g class="r" transform="translate(530,535)"><path class="i" d="M-2,1L6,0"/><circle cx="-2" cy="1" r="1.2"/><circle cx="6" cy="0" r="1.2"/></g><text class="s" x="527" y="526">response lipopolysaccharide pa</text></g>
<g id="n85"><g class="r"><circle cx="526" cy="565" r="1.2"/><circle cx="533" cy="564" r="1.2"/></g><text class="s" x="529" y="555">smooth muscle cell ligation</text></g>
<g id="n86"><ellipse class="c" cx="504" cy="593" rx="9" ry="13"/><g class="r" transform="translate(504,593)"><path class="i" d="M-3-6L4-1L7,4L1,10L-3,3ZM-3,3L4-1"/><circle cx="-3" cy="-6" r="1.2"/><circle cx="4" cy="-1" r="1.2"/><circle cx="-3" cy="3" r="1.4"/><circle cx="7" cy="4" r="1.2"/><circle cx="1" cy="10" r="1.2"/></g><text class="m" x="507" y="578">smooth muscle proliferation</text></g>
<g id="n87"><ellipse class="c" cx="554" cy="654" rx="6" ry="8"/><g class="r" transform="translate(554,654)"><circle cx="0" cy="-2" r="1.2"/><circle cx="-1" cy="5" r="1.2"/></g><text class="s" x="551" y="644">platelet aggregation plug</text></g>
<g id="n88"><ellipse class="c" cx="709" cy="326" rx="13" ry="14"/><g class="r" transform="translate(709,326)"><path class="i" d="M-3-6L1,1L6-6M1,1L1,11"/><circle cx="-3" cy="-6" r="1.2"/><circle cx="6" cy="-6" r="1.2"/><circle cx="1" cy="1" r="1.8"/><circle cx="1" cy="11" r="1.8"/></g><text class="m" x="718" y="311">nodes matrisome proteoglycans</text></g>
<g id="n89"><ellipse class="c" cx="668" cy="360" rx="9" ry="10"/><g class="r" transform="translate(668,360)"><path class="i" d="M0-6L6-3L4,3L-5,3ZM0-6L4,3M6-3L-5,3M0-6L-1,7"/><circle cx="0" cy="-6" r="1.2"/><circle cx="6" cy="-3" r="1.2"/><circle cx="4" cy="3" r="1.3"/><circle cx="-5" cy="3" r="1.2"/><circle cx="-1" cy="7" r="1.2"/></g><text class="m" x="668" y="351">fibrils multimeric collagen</text></g>
<g id="n90"><ellipse class="c" cx="749" cy="358" rx="9" ry="8"/><g class="r" transform="translate(749,358)"><path class="i" d="M-2-3L5-1L3,6L-3,3Z"/><circle cx="-2" cy="-3" r="1.2"/><circle cx="5" cy="-1" r="1.2"/><circle cx="-3" cy="3" r="1.2"/><circle cx="3" cy="6" r="1.2"/></g><text class="s" x="747" y="346">beta3 integrin b3 integrin b1</text></g>
<g id="n91"><ellipse class="c" cx="737" cy="368" rx="13" ry="14"/><g class="r" transform="translate(737,368)"><path class="i" d="M-5-6L-6,0L-4,4L2,9M-6,0L1,0L7-3M1,0L2,9"/><circle cx="-5" cy="-6" r="1.2"/><circle cx="-6" cy="0" r="1.2"/><circle cx="1" cy="0" r="1.2"/><circle cx="-4" cy="4" r="1.2"/><circle cx="2" cy="9" r="1.2"/><circle cx="7" cy="-3" r="1.2"/></g><text class="m" x="735" y="353">a6b1 a6b4 met</text></g>
<g id="n92"><ellipse class="c" cx="642" cy="387" rx="6" ry="16"/><g class="r" transform="translate(642,387)"><path class="i" d="M2-8L2,2L4,10"/><circle cx="2" cy="-8" r="1.2"/><circle cx="2" cy="2" r="1.2"/><circle cx="4" cy="10" r="1.2"/></g><text class="s" x="644" y="370">syndecan 1 mediated</text></g>
<g id="n93"><ellipse class="c" cx="592" cy="393" rx="9" ry="6"/><g class="r" transform="translate(592,393)"><path class="i" d="M-2,0L7,2"/><circle cx="-2" cy="0" r="1.2"/><circle cx="7" cy="2" r="1.3"/></g><text class="s" x="597" y="384">isolated node mode of signalling</text></g>
<g id="n94"><ellipse class="c" cx="779" cy="381" rx="8" ry="5"/><g class="r" transform="translate(779,381)"><path class="i" d="M-3,2L4,2"/><circle cx="-3" cy="2" r="1.2"/><circle cx="4" cy="2" r="1.2"/></g><text class="s" x="783" y="373">cytokine in trans clients in cm</text></g>
<g id="n95"><ellipse class="c" cx="694" cy="395" rx="17" ry="13"/><g class="r" transform="translate(694,395)"><path class="i" d="M11-4L2,2L0,8L9,9L11-4M2,2L-7,8L0,8"/><circle cx="11" cy="-4" r="1.2"/><circle cx="2" cy="2" r="1.2"/><circle cx="0" cy="8" r="1.6"/><circle cx="9" cy="9" r="1.6"/><circle cx="-7" cy="8" r="1.2"/></g><text class="m" x="693" y="381">at signalling pathway</text></g>
<g id="n96"><ellipse class="c" cx="741" cy="402" rx="8" ry="8"/><g class="r" transform="translate(741,402)"><path class="i" d="M-1-4L-3,4L5,3Z"/><circle cx="-1" cy="-4" r="1.2"/><circle cx="-3" cy="4" r="1.2"/><circle cx="5" cy="3" r="1.2"/></g><text class="s" x="753" y="393">regulatory t cells produce effector</text></g>
<g id="n97"><ellipse class="c" cx="631" cy="427" rx="16" ry="15"/><g class="r" transform="translate(631,427)"><path class="i" d="M-7-10L2-11L8-9L14,0L7,5L6,10L1,6L-6,5L-11-3ZM-2-3L5-3M-7-10L-2-3L1,6M2-11L5-3L7,5M-11-3L-2-3M5-3L14,0M-6,5L-2-3"/><circle cx="-7" cy="-10" r="1.2"/><circle cx="2" cy="-11" r="1.2"/><circle cx="8" cy="-9" r="1.2"/><circle cx="-11" cy="-3" r="1.2"/><circle cx="-2" cy="-3" r="1.4"/><circle cx="5" cy="-3" r="1.3"/><circle cx="14" cy="0" r="1.2"/><circle cx="-6" cy="5" r="1.2"/><circle cx="1" cy="6" r="1.4"/><circle cx="7" cy="5" r="1.3"/><circle cx="6" cy="10" r="1.2"/></g><text class="l" x="634" y="410">pathology yap hippo</text></g>
<g id="n98"><ellipse class="c" cx="704" cy="436" rx="10" ry="14"/><g class="r" transform="translate(704,436)"><path class="i" d="M0-6L9-3L8,4L4,9L-1,6L-6,0ZM0-6L3,1L8,4M-6,0L3,1L-1,6"/><circle cx="0" cy="-6" r="1.2"/><circle cx="9" cy="-3" r="1.2"/><circle cx="-6" cy="0" r="1.2"/><circle cx="3" cy="1" r="1.2"/><circle cx="8" cy="4" r="1.2"/><circle cx="-1" cy="6" r="1.2"/><circle cx="4" cy="9" r="1.2"/></g><text class="m" x="703" y="420">hepatocyte pdgfrb fak</text></g>
<g id="n99"><ellipse class="c" cx="679" cy="439" rx="8" ry="14"/><g class="r" transform="translate(679,439)"><path class="i" d="M1-5L0,3L3,9"/><circle cx="1" cy="-5" r="1.2"/><circle cx="0" cy="3" r="1.2"/><circle cx="3" cy="9" r="1.2"/></g><text class="s" x="663" y="423">p38 1 p38 a signaling</text></g>
<g id="n100"><ellipse class="c" cx="745" cy="434" rx="13" ry="13"/><g class="r" transform="translate(745,434)"><path class="i" d="M3-7L-6-1L3,3L8-1ZM3,3L-5,8L2,7Z"/><circle cx="-6" cy="-1" r="1.3"/><circle cx="3" cy="-7" r="1.2"/><circle cx="8" cy="-1" r="1.3"/><circle cx="3" cy="3" r="1.5"/><circle cx="-5" cy="8" r="1.2"/><circle cx="2" cy="7" r="1.3"/></g><text class="m" x="748" y="423">gastrin cck2r 240212</text></g>
<g id="n101"><ellipse class="c" cx="782" cy="423" rx="7" ry="5"/><g class="r" transform="translate(782,423)"><circle cx="-3" cy="1" r="1.2"/><circle cx="3" cy="2" r="1.2"/></g><text class="s" x="776" y="414">a cadherin pathway mediated</text></g>
<g id="n102"><ellipse class="c" cx="801" cy="445" rx="8" ry="9"/><g class="r" transform="translate(801,445)"><path class="i" d="M-4-1L4-3L-1,5Z"/><circle cx="-4" cy="-1" r="1.2"/><circle cx="4" cy="-3" r="1.2"/><circle cx="-1" cy="5" r="1.2"/></g><text class="s" x="797" y="433">cdc42 pathway</text></g>
<g id="n103"><ellipse class="c" cx="837" cy="456" rx="13" ry="12"/><g class="r" transform="translate(837,456)"><path class="i" d="M-7-3L7-4L7,7Z"/><circle cx="-7" cy="-3" r="1.3"/><circle cx="7" cy="-4" r="1.7"/><circle cx="7" cy="7" r="1.8"/></g><text class="s" x="832" y="440">positive actin assembly elongation</text></g>
<g id="n104"><ellipse class="c" cx="597" cy="481" rx="15" ry="21"/><g class="r" transform="translate(597,481)"><path class="i" d="M-4-9L3-11L8-7L10,0L12,6L6,11L3,19M-8-4L-4-1L3,1L10,0M-4-9L-4-1M3-11L3,1M8-7L3,1L6,11M-6,5L-4-1M-6,5L3,1M-1-16L3-11"/><circle cx="-4" cy="-9" r="1.4"/><circle cx="3" cy="-11" r="1.4"/><circle cx="8" cy="-7" r="1.4"/><circle cx="-8" cy="-4" r="1.3"/><circle cx="-4" cy="-1" r="1.5"/><circle cx="3" cy="1" r="1.5"/><circle cx="10" cy="0" r="1.4"/><circle cx="12" cy="6" r="1.3"/><circle cx="6" cy="11" r="1.3"/><circle cx="3" cy="19" r="1.2"/><circle cx="-6" cy="5" r="1.3"/><circle cx="-1" cy="-16" r="1.2"/></g><text class="x" x="600" y="460">actin polymerization filament</text></g>
<g id="n105"><ellipse class="c" cx="746" cy="468" rx="14" ry="15"/><g class="r" transform="translate(746,468)"><path class="i" d="M-3,2L7,4L6,9L-3,2M7,4L11-1M-6-6L-3,2"/><circle cx="-3" cy="2" r="1.4"/><circle cx="7" cy="4" r="1.4"/><circle cx="6" cy="9" r="1.2"/><circle cx="11" cy="-1" r="1.2"/><circle cx="-6" cy="-6" r="1.2"/></g><text class="m" x="750" y="454">bundle contractile actin</text></g>
<g id="n106"><ellipse class="c" cx="710" cy="487" rx="13" ry="10"/><g class="r" transform="translate(710,487)"><path class="i" d="M-10-5L2-6L-7,1L8-1Z"/><circle cx="-10" cy="-5" r="1.2"/><circle cx="2" cy="-6" r="1.2"/><circle cx="-7" cy="1" r="1.2"/><circle cx="8" cy="-1" r="1.2"/></g><text class="m" x="713" y="474">eph ephrin ephs</text></g>
<g id="n107"><ellipse class="c" cx="780" cy="490" rx="18" ry="14"/><g class="r" transform="translate(780,490)"><path class="i" d="M-13-5L-5-4L3-2L12-3M-8,3L0,5L8,5M-5-4L-8,3M3-2L0,5L-3,11L5,11L8,5L3-2"/><circle cx="-13" cy="-5" r="1.3"/><circle cx="-5" cy="-4" r="1.6"/><circle cx="3" cy="-2" r="1.6"/><circle cx="-8" cy="3" r="1.4"/><circle cx="0" cy="5" r="1.8"/><circle cx="8" cy="5" r="1.7"/><circle cx="-3" cy="11" r="1.6"/><circle cx="5" cy="11" r="1.6"/><circle cx="12" cy="-3" r="1.2"/></g><text class="l" x="787" y="479">invagination phagocytosis engulfment</text></g>
<g id="n108"><ellipse class="c" cx="699" cy="508" rx="10" ry="11"/><g class="r" transform="translate(699,508)"><path class="i" d="M0-5L8-3L8,4L2,7L-1,3L-5-2ZM0-5L-1,3L8,4"/><circle cx="0" cy="-5" r="1.9"/><circle cx="8" cy="-3" r="1.2"/><circle cx="-1" cy="3" r="1.3"/><circle cx="8" cy="4" r="1.3"/><circle cx="2" cy="7" r="1.2"/><circle cx="-5" cy="-2" r="1.2"/></g><text class="m" x="700" y="495">parasite infection anemia</text></g>
<g id="n109"><ellipse class="c" cx="814" cy="512" rx="18" ry="13"/><g class="r" transform="translate(814,512)"><path class="i" d="M-11-6L-1-7L6-10L8-6L9-2L11,2L14,8L3,9L-7,9L-11,5L-14,0ZM-6-2L0,0L3-1L-2,4ZM-11-6L-6-2L-14,0M-1-7L0,0L8-6M3-1L9-2M-2,4L-7,9M-2,4L3,9M3-1L11,2"/><circle cx="-11" cy="-6" r="1.4"/><circle cx="-6" cy="-2" r="1.5"/><circle cx="-1" cy="-7" r="1.5"/><circle cx="3" cy="-1" r="2"/><circle cx="8" cy="-6" r="1.4"/><circle cx="11" cy="2" r="1.4"/><circle cx="-2" cy="4" r="1.7"/><circle cx="-11" cy="5" r="1.4"/><circle cx="-7" cy="9" r="1.4"/><circle cx="3" cy="9" r="1.5"/><circle cx="14" cy="8" r="1.2"/><circle cx="6" cy="-10" r="1.2"/><circle cx="-14" cy="0" r="1.2"/><circle cx="0" cy="0" r="1.6"/><circle cx="9" cy="-2" r="1.3"/></g><text class="y" x="815" y="495">cardiac skeletal muscle</text></g>
<g id="n110"><ellipse class="c" cx="654" cy="521" rx="24" ry="6"/><g class="r" transform="translate(654,521)"><path class="i" d="M-9,1L-1,1L7,0L15,0"/><circle cx="-9" cy="1" r="1.6"/><circle cx="-1" cy="1" r="1.2"/><circle cx="7" cy="0" r="1.2"/><circle cx="15" cy="0" r="1.2"/></g><text class="s" x="653" y="512">cytoplasmic translational elongation</text></g>
<g id="n111"><ellipse class="c" cx="753" cy="527" rx="10" ry="12"/><g class="r" transform="translate(753,527)"><path class="i" d="M-1-6L7-2L4,4L-3,9L-1,1ZM-1-6L-1,1L4,4"/><circle cx="-1" cy="-6" r="1.2"/><circle cx="7" cy="-2" r="1.2"/><circle cx="-1" cy="1" r="1.2"/><circle cx="4" cy="4" r="1.2"/><circle cx="-3" cy="9" r="1.2"/></g><text class="m" x="756" y="514">activate rocks sensed</text></g>
<g id="n112"><ellipse class="c" cx="683" cy="551" rx="12" ry="13"/><g class="r" transform="translate(683,551)"><path class="i" d="M2-7L1,1L10,3L2,10M-6,1L1,1"/><circle cx="2" cy="-7" r="1.4"/><circle cx="-6" cy="1" r="1.2"/><circle cx="1" cy="1" r="1.2"/><circle cx="10" cy="3" r="1.7"/><circle cx="2" cy="10" r="1.4"/></g><text class="m" x="686" y="536">myometrial relaxation channels</text></g>
<g id="n113"><ellipse class="c" cx="812" cy="555" rx="13" ry="13"/><g class="r" transform="translate(812,555)"><path class="i" d="M0-7L7-6L6,0L3,4L0,8L-4,3L-5-2ZM0-7L1-1L6,0M-5-2L1-1L3,4M9,5L6,0"/><circle cx="0" cy="-7" r="1.3"/><circle cx="7" cy="-6" r="1.3"/><circle cx="-5" cy="-2" r="1.3"/><circle cx="1" cy="-1" r="1.3"/><circle cx="6" cy="0" r="1.3"/><circle cx="-4" cy="3" r="1.3"/><circle cx="3" cy="4" r="1.3"/><circle cx="0" cy="8" r="1.3"/><circle cx="9" cy="5" r="1.2"/></g><text class="l" x="813" y="541">muscle striated tissue</text></g>
<g id="n114"><ellipse class="c" cx="749" cy="567" rx="6" ry="15"/><g class="r" transform="translate(749,567)"><path class="i" d="M3-6L3,1L3,9"/><circle cx="3" cy="-6" r="1.2"/><circle cx="3" cy="1" r="1.2"/><circle cx="3" cy="9" r="1.2"/></g><text class="s" x="751" y="551">megakaryocyte platelet formation</text></g>
<g id="n115"><ellipse class="c" cx="578" cy="565" rx="8" ry="6"/><g class="r" transform="translate(578,565)"><path class="i" d="M-2-1L6,3"/><circle cx="-2" cy="-1" r="1.2"/><circle cx="6" cy="3" r="1.2"/></g><text class="s" x="583" y="556">atf 2 transcription</text></g>
<g id="n116"><ellipse class="c" cx="621" cy="588" rx="8" ry="8"/><g class="b" transform="translate(621,588)"><path class="i" d="M-3-2L5-3L2,5Z"/><circle cx="-3" cy="-2" r="1.2"/><circle cx="5" cy="-3" r="1.2"/><circle cx="2" cy="5" r="1.2"/></g><text class="s" x="620" y="578">cross presentation soluble</text></g>
<g id="n117"><ellipse class="c" cx="593" cy="620" rx="16" ry="12"/><g class="r" transform="translate(593,620)"><path class="i" d="M0-6L4-3L6,0L10,0M0-6L-6,2L1,2L4-3M1,2L6,0L5,5L-3,5L1,2M-6,2L-3,5M-10,9L-6,2"/><circle cx="0" cy="-6" r="1.2"/><circle cx="4" cy="-3" r="1.3"/><circle cx="-6" cy="2" r="1.7"/><circle cx="1" cy="2" r="1.3"/><circle cx="6" cy="0" r="1.2"/><circle cx="10" cy="0" r="1.3"/><circle cx="-3" cy="5" r="1.2"/><circle cx="5" cy="5" r="1.2"/><circle cx="-10" cy="9" r="1.2"/></g><text class="l" x="594" y="605">mapk braf mutants</text></g>
<g id="n118"><ellipse class="c" cx="723" cy="604" rx="8" ry="6"/><g class="r" transform="translate(723,604)"><path class="i" d="M-2,0L5,3"/><circle cx="-2" cy="0" r="1.2"/><circle cx="5" cy="3" r="1.2"/></g><text class="s" x="723" y="596">alpha4 beta1 acts 1</text></g>
<g id="n119"><ellipse class="c" cx="797" cy="608" rx="6" ry="8"/><g class="r" transform="translate(797,608)"><path class="i" d="M2-1L3,5"/><circle cx="2" cy="-1" r="1.2"/><circle cx="3" cy="5" r="1.2"/></g><text class="s" x="796" y="597">p high pathway</text></g>
<g id="n120"><ellipse class="c" cx="843" cy="605" rx="10" ry="6"/><g class="r" transform="translate(843,605)"><path class="i" d="M-5,1L4,1"/><circle cx="-5" cy="1" r="1.2"/><circle cx="4" cy="1" r="1.4"/></g><text class="s" x="840" y="597">pi regulation complexity a activity</text></g>
<g id="n121"><ellipse class="c" cx="686" cy="633" rx="6" ry="8"/><g class="r" transform="translate(686,633)"><circle cx="0" cy="-2" r="1.2"/><circle cx="0" cy="5" r="1.2"/></g><text class="s" x="689" y="624">alk beta 1 all b1</text></g>
<g id="n122"><ellipse class="c" cx="754" cy="634" rx="8" ry="6"/><g class="r" transform="translate(754,634)"><path class="i" d="M-1-1L6,3"/><circle cx="-1" cy="-1" r="1.2"/><circle cx="6" cy="3" r="1.2"/></g><text class="s" x="754" y="625">pid amb2 neutrophils</text></g>
<g id="n123"><ellipse class="c" cx="804" cy="637" rx="8" ry="6"/><g class="r" transform="translate(804,637)"><path class="i" d="M-5,0L4,2"/><circle cx="-5" cy="0" r="1.2"/><circle cx="4" cy="2" r="1.2"/></g><text class="s" x="804" y="629">p73 transcription factor</text></g>
<g id="n124"><ellipse class="c" cx="852" cy="640" rx="8" ry="10"/><g class="r" transform="translate(852,640)"><circle cx="-3" cy="-1" r="1.2"/><circle cx="0" cy="5" r="1.2"/></g><text class="s" x="856" y="629">primary segmental</text></g>
<g id="n125"><ellipse class="c" cx="719" cy="666" rx="7" ry="11"/><g class="r" transform="translate(719,666)"><circle cx="2" cy="-2" r="1.3"/><circle cx="2" cy="7" r="1.7"/></g><text class="s" x="722" y="653">mk1 mk2 cascade</text></g>
<g id="n126"><ellipse class="c" cx="761" cy="666" rx="7" ry="11"/><g class="r" transform="translate(761,666)"><circle cx="-2" cy="-3" r="1.3"/><circle cx="3" cy="6" r="1.3"/></g><text class="s" x="763" y="653">response metal ion</text></g>
<g id="n127"><ellipse class="c" cx="620" cy="674" rx="13" ry="13"/><g class="r" transform="translate(620,674)"><path class="i" d="M2-7L7-6L10,2L7,8L1,7L-7,1ZM2-7L1,1L6,2L10,2M-7,1L1,1L1,7M6,2L7,8"/><circle cx="2" cy="-7" r="1.2"/><circle cx="7" cy="-6" r="1.2"/><circle cx="-7" cy="1" r="1.8"/><circle cx="1" cy="1" r="1.2"/><circle cx="6" cy="2" r="1.2"/><circle cx="10" cy="2" r="1.3"/><circle cx="1" cy="7" r="1.2"/><circle cx="7" cy="8" r="1.2"/></g><text class="m" x="618" y="661">matrix disassembly metalloproteinases</text></g>
<g id="n128"><ellipse class="c" cx="808" cy="680" rx="9" ry="8"/><g class="r" transform="translate(808,680)"><path class="i" d="M-1-5L-6,0L-3,6L3,6L7,0L3,0Z"/><circle cx="-1" cy="-5" r="1.2"/><circle cx="-6" cy="0" r="1.2"/><circle cx="3" cy="0" r="1.2"/><circle cx="7" cy="0" r="1.2"/><circle cx="-3" cy="6" r="1.2"/><circle cx="3" cy="6" r="1.2"/></g><text class="m" x="808" y="670">lipase activity phospholipase</text></g>
<g id="n129"><ellipse class="c" cx="723" cy="704" rx="8" ry="6"/><g class="r" transform="translate(723,704)"><circle cx="-2" cy="3" r="1.2"/><circle cx="5" cy="-2" r="1.2"/></g><text class="s" x="723" y="696">amino response drug</text></g>
<g id="n130"><ellipse class="c" cx="858" cy="257" rx="10" ry="6"/><g class="r" transform="translate(858,257)"><path class="i" d="M-6,0L4-1"/><circle cx="-6" cy="0" r="1.3"/><circle cx="4" cy="-1" r="1.6"/></g><text class="s" x="858" y="247">regulation golgi protein kinase</text></g>
<g id="n131"><ellipse class="c" cx="917" cy="262" rx="6" ry="9"/><g class="r" transform="translate(917,262)"><circle cx="1" cy="-2" r="1.2"/><circle cx="1" cy="5" r="1.2"/></g><text class="s" x="917" y="251">pid pten pathway</text></g>
<g id="n132"><ellipse class="c" cx="1025" cy="257" rx="10" ry="6"/><g class="r" transform="translate(1025,257)"><path class="i" d="M-4,0L4-1"/><circle cx="-4" cy="0" r="1.2"/><circle cx="4" cy="-1" r="1.2"/></g><text class="s" x="1027" y="248">cytokine biosynthetic process</text></g>
<g id="n133"><ellipse class="c" cx="980" cy="273" rx="6" ry="8"/><g class="r" transform="translate(980,273)"><circle cx="-1" cy="-2" r="1.2"/><circle cx="2" cy="3" r="1.2"/></g><text class="s" x="979" y="264">pid il27</text></g>
<g id="n134"><ellipse class="c" cx="1002" cy="287" rx="6" ry="8"/><g class="r" transform="translate(1002,287)"><path class="i" d="M-1-2L2,4"/><circle cx="-1" cy="-2" r="1.2"/><circle cx="2" cy="4" r="1.2"/></g><text class="s" x="1007" y="275">lamellipodium organization assembly</text></g>
<g id="n135"><ellipse class="c" cx="1077" cy="277" rx="7" ry="5"/><g class="r" transform="translate(1077,277)"><circle cx="-2" cy="1" r="1.2"/><circle cx="5" cy="0" r="1.2"/></g><text class="s" x="1077" y="269">beta2 integrin cell</text></g>
<g id="n136"><ellipse class="c" cx="1127" cy="297" rx="18" ry="19"/><g class="r" transform="translate(1127,297)"><path class="i" d="M-6-11L-1-10L-1-5L-6-1L-11-6ZM-1-5L6,2L2,6L-2,2L-6-1M-1-10L-2,2M6,2L15,6M2,6L0,15M-10,3L-6-1"/><circle cx="-6" cy="-11" r="1.4"/><circle cx="-1" cy="-10" r="1.4"/><circle cx="-11" cy="-6" r="1.4"/><circle cx="-1" cy="-5" r="1.4"/><circle cx="-6" cy="-1" r="1.4"/><circle cx="-2" cy="2" r="1.4"/><circle cx="6" cy="2" r="1.7"/><circle cx="2" cy="6" r="1.4"/><circle cx="15" cy="6" r="1.2"/><circle cx="0" cy="15" r="1.2"/><circle cx="-10" cy="3" r="1.2"/></g><text class="l" x="1122" y="277">regulation secretion negative</text></g>
<g id="n137"><ellipse class="c" cx="934" cy="298" rx="8" ry="9"/><g class="r" transform="translate(934,298)"><path class="i" d="M-1-3L-3,4L4,4Z"/><circle cx="-1" cy="-3" r="1.2"/><circle cx="-3" cy="4" r="1.6"/><circle cx="4" cy="4" r="1.6"/></g><text class="s" x="933" y="285">platelet ca 2 degranulation</text></g>
<g id="n138"><ellipse class="c" cx="1068" cy="308" rx="8" ry="8"/><g class="r" transform="translate(1068,308)"><path class="i" d="M-3,0L3-1L2,5"/><circle cx="-3" cy="0" r="1.2"/><circle cx="3" cy="-1" r="1.2"/><circle cx="2" cy="5" r="1.2"/></g><text class="s" x="1063" y="298">bicarbonate transport ion</text></g>
<g id="n139"><ellipse class="c" cx="998" cy="317" rx="7" ry="6"/><g class="r" transform="translate(998,317)"><circle cx="-5" cy="-3" r="1.2"/><circle cx="3" cy="0" r="1.2"/></g><text class="s" x="997" y="309">beta integrin beta 7</text></g>
<g id="n140"><ellipse class="c" cx="1096" cy="340" rx="9" ry="9"/><g class="r" transform="translate(1096,340)"><path class="i" d="M-3-4L4-4L5,5L-3,5ZM-3-4L5,5M4-4L-3,5"/><circle cx="-3" cy="-4" r="1.2"/><circle cx="4" cy="-4" r="1.2"/><circle cx="-3" cy="5" r="1.2"/><circle cx="5" cy="5" r="1.6"/></g><text class="s" x="1093" y="328">tumor necrosis production</text></g>
<g id="n141"><ellipse class="c" cx="1033" cy="343" rx="6" ry="8"/><g class="r" transform="translate(1033,343)"><circle cx="2" cy="-1" r="1.2"/><circle cx="1" cy="6" r="1.2"/></g><text class="s" x="1038" y="334">monocyte clearance</text></g>
<g id="n142"><ellipse class="c" cx="1160" cy="343" rx="10" ry="6"/><g class="r" transform="translate(1160,343)"><circle cx="-3" cy="2" r="1.6"/><circle cx="5" cy="1" r="1.2"/></g><text class="s" x="1165" y="335">synapse organization postsynapse</text></g>
<g id="n143"><ellipse class="c" cx="963" cy="355" rx="8" ry="6"/><g class="r" transform="translate(963,355)"><path class="i" d="M-5-1L5,1"/><circle cx="-5" cy="-1" r="1.2"/><circle cx="5" cy="1" r="1.2"/></g><text class="s" x="962" y="344">regulation epithelial differentiation</text></g>
<g id="n144"><ellipse class="c" cx="1033" cy="375" rx="6" ry="8"/><g class="r" transform="translate(1033,375)"><circle cx="1" cy="-2" r="1.2"/><circle cx="0" cy="6" r="1.2"/></g><text class="s" x="1035" y="365">neuron kidney renal development</text></g>
<g id="n145"><ellipse class="c" cx="1092" cy="372" rx="7" ry="5"/><g class="r" transform="translate(1092,372)"><circle cx="-4" cy="3" r="1.2"/><circle cx="4" cy="1" r="1.2"/></g><text class="s" x="1092" y="365">positive filtration glomerular filtration</text></g>
<g id="n146"><ellipse class="c" cx="927" cy="383" rx="6" ry="7"/><g class="r" transform="translate(927,383)"><circle cx="2" cy="-3" r="1.2"/><circle cx="0" cy="4" r="1.5"/></g><text class="s" x="932" y="373">cell adhesion differentiation cells</text></g>
<g id="n147"><ellipse class="c" cx="900" cy="406" rx="7" ry="5"/><g class="b" transform="translate(900,406)"><circle cx="-3" cy="1" r="1.2"/><circle cx="3" cy="0" r="1.2"/></g><text class="s" x="905" y="398">mesenchymal signal</text></g>
<g id="n148"><ellipse class="c" cx="955" cy="413" rx="9" ry="9"/><g class="r" transform="translate(955,413)"><path class="i" d="M-3-2L4-5L4,4Z"/><circle cx="-3" cy="-2" r="1.3"/><circle cx="4" cy="-5" r="1.3"/><circle cx="4" cy="4" r="1.3"/></g><text class="s" x="957" y="400">positive lipid response lipid</text></g>
<g id="n149"><ellipse class="c" cx="1070" cy="418" rx="10" ry="10"/><g class="r" transform="translate(1070,418)"><path class="i" d="M5-5L-3,1L-5,7M-3,1L6,7L5-5"/><circle cx="5" cy="-5" r="1.7"/><circle cx="-3" cy="1" r="1.2"/><circle cx="-5" cy="7" r="1.4"/><circle cx="6" cy="7" r="1.2"/></g><text class="m" x="1072" y="406">negative motility migration</text></g>
<g id="n150"><ellipse class="c" cx="1090" cy="448" rx="17" ry="20"/><g class="r" transform="translate(1090,448)"><path class="i" d="M-6-13L3-12L6-5L11-2L13,5L10,11L2,15L-6,14L-11,8L-10-5ZM-2-6L0,1L7,3L4,9L-4,8L-8,2ZM-6-13L-2-6L3-12M6-5L0,1M11-2L7,3M13,5L7,3M10,11L4,9M2,15L4,9M-6,14L-4,8M-11,8L-8,2M-10-5L-8,2M-2-6L6-5"/><circle cx="-6" cy="-13" r="1.3"/><circle cx="3" cy="-12" r="1.3"/><circle cx="-10" cy="-5" r="1.3"/><circle cx="-2" cy="-6" r="1.4"/><circle cx="6" cy="-5" r="1.4"/><circle cx="11" cy="-2" r="1.3"/><circle cx="-8" cy="2" r="1.4"/><circle cx="0" cy="1" r="1.7"/><circle cx="7" cy="3" r="1.4"/><circle cx="13" cy="5" r="1.3"/><circle cx="-11" cy="8" r="1.3"/><circle cx="-4" cy="8" r="1.5"/><circle cx="4" cy="9" r="1.5"/><circle cx="10" cy="11" r="1.3"/><circle cx="-6" cy="14" r="1.3"/><circle cx="2" cy="15" r="1.4"/></g><text class="x" x="1093" y="430">migration sprouting angiogenesis</text></g>
<g id="n151"><ellipse class="c" cx="963" cy="442" rx="13" ry="8"/><g class="r" transform="translate(963,442)"><path class="i" d="M-8,1L-1-2L6-2L7,4L1,6L-5,5ZM-1-2L1,6"/><circle cx="-8" cy="1" r="1.2"/><circle cx="-1" cy="-2" r="1.2"/><circle cx="6" cy="-2" r="1.2"/><circle cx="-5" cy="5" r="1.2"/><circle cx="1" cy="6" r="1.2"/><circle cx="7" cy="4" r="1.2"/></g><text class="m" x="967" y="434">maturation protein processing</text></g>
<g id="n152"><ellipse class="c" cx="991" cy="469" rx="18" ry="7"/><g class="r" transform="translate(991,469)"><path class="i" d="M-8-1L3-1L10,0"/><circle cx="-8" cy="-1" r="1.2"/><circle cx="3" cy="-1" r="1.9"/><circle cx="10" cy="0" r="1.2"/></g><text class="s" x="992" y="460">inflammatory response phagocytosis activation</text></g>
<g id="n153"><ellipse class="c" cx="913" cy="476" rx="14" ry="13"/><g class="r" transform="translate(913,476)"><path class="i" d="M-4-4L3-3L6,3L-1,5L-7,2ZM-4-4L-1,5M3-3L-7,2"/><circle cx="-4" cy="-4" r="1.3"/><circle cx="3" cy="-3" r="1.6"/><circle cx="6" cy="3" r="1.3"/><circle cx="-1" cy="5" r="1.3"/><circle cx="-7" cy="2" r="1.2"/></g><text class="m" x="912" y="462">artery aorta vasculogenesis</text></g>
<g id="n154"><ellipse class="c" cx="1228" cy="312" rx="10" ry="10"/><g class="r" transform="translate(1228,312)"><path class="i" d="M1-3L-3,1L2,1L8,1M1-3L2,1L-1,8M2,1L5,8"/><circle cx="1" cy="-3" r="1.3"/><circle cx="-3" cy="1" r="1.3"/><circle cx="2" cy="1" r="1.3"/><circle cx="8" cy="1" r="1.3"/><circle cx="-1" cy="8" r="1.5"/><circle cx="5" cy="8" r="1.3"/></g><text class="m" x="1229" y="300">localization plasma periphery</text></g>
<g id="n155"><ellipse class="c" cx="1224" cy="364" rx="8" ry="8"/><g class="r" transform="translate(1224,364)"><path class="i" d="M-2-3L4-1L-2,5"/><circle cx="-2" cy="-3" r="1.2"/><circle cx="4" cy="-1" r="1.2"/><circle cx="-2" cy="5" r="1.2"/></g><text class="s" x="1225" y="353">import nucleus nuclear cytoplasmic</text></g>
<g id="n156"><ellipse class="c" cx="1331" cy="347" rx="10" ry="14"/><g class="r" transform="translate(1331,347)"><path class="i" d="M2-8L8-5L2-2L-3-3ZM2-2L8,1L0,4L-3-3M0,4L8,9"/><circle cx="2" cy="-8" r="1.2"/><circle cx="8" cy="-5" r="1.2"/><circle cx="-3" cy="-3" r="1.3"/><circle cx="2" cy="-2" r="1.2"/><circle cx="8" cy="1" r="1.3"/><circle cx="0" cy="4" r="1.6"/><circle class="b" cx="8" cy="9" r="1.2"/></g><text class="m" x="1328" y="330">glycosylation tar proteins</text></g>
<g id="n157"><ellipse class="c" cx="1350" cy="384" rx="14" ry="15"/><g class="r" transform="translate(1350,384)"><path class="i" d="M-3-10L3-9L9-3L9,3L8,8L1,12L-5,11L-9,5L-10-1L-8-5ZM-1-5L5-6L4,1L0,0L-6,0ZM-3-10L-1-5M3-9L5-6M9-3L4,1M9,3L4,1M3,7L0,0L-3,6L3,7L8,8M-9,5L-3,6M-10-1L-6,0M-8-5L-1-5M6-1L4,1"/><circle cx="-3" cy="-10" r="1.3"/><circle cx="3" cy="-9" r="1.3"/><circle cx="-8" cy="-5" r="1.3"/><circle cx="-1" cy="-5" r="1.4"/><circle cx="5" cy="-6" r="1.4"/><circle cx="9" cy="-3" r="1.3"/><circle cx="-6" cy="0" r="1.4"/><circle cx="0" cy="0" r="1.8"/><circle cx="4" cy="1" r="1.5"/><circle cx="9" cy="3" r="1.3"/><circle cx="-9" cy="5" r="1.3"/><circle cx="-3" cy="6" r="1.4"/><circle cx="3" cy="7" r="1.4"/><circle cx="8" cy="8" r="1.3"/><circle cx="-5" cy="11" r="1.3"/><circle cx="1" cy="12" r="1.3"/><circle cx="-10" cy="-1" r="1.2"/><circle cx="6" cy="-1" r="1.3"/></g><text class="y" x="1350" y="365">sulfate process chondroitin</text></g>
<g id="n158"><ellipse class="c" cx="1192" cy="419" rx="15" ry="7"/><g class="r" transform="translate(1192,419)"><path class="i" d="M-8,4L-2-1L4,5L8-2L11,4M-2-1L8-2"/><circle cx="-8" cy="4" r="1.2"/><circle cx="-2" cy="-1" r="1.2"/><circle cx="4" cy="5" r="1.6"/><circle cx="8" cy="-2" r="1.4"/><circle cx="11" cy="4" r="1.2"/></g><text class="m" x="1189" y="411">proliferation endothelial epithelial</text></g>
<g id="n159"><ellipse class="c" cx="1031" cy="499" rx="15" ry="14"/><g class="r" transform="translate(1031,499)"><path class="i" d="M-1-9L6-6L9,1L6,8L0,8L-7,7L-10,1L-6-4ZM2-3L-4,2L3,2ZM-1-9L2-3L6-6M-6-4L-4,2M9,1L3,2M0,8L3,2M12-5L6-6"/><circle cx="-1" cy="-9" r="1.4"/><circle cx="6" cy="-6" r="1.3"/><circle cx="-6" cy="-4" r="1.3"/><circle cx="2" cy="-3" r="1.5"/><circle cx="-10" cy="1" r="1.3"/><circle cx="-4" cy="2" r="1.5"/><circle cx="3" cy="2" r="1.5"/><circle cx="9" cy="1" r="1.3"/><circle cx="-7" cy="7" r="1.3"/><circle cx="0" cy="8" r="1.4"/><circle cx="6" cy="8" r="1.3"/><circle cx="12" cy="-5" r="1.2"/></g><text class="l" x="1031" y="484">monocyte chemotaxis leukocyte</text></g>
<g id="n160"><ellipse class="c" cx="948" cy="511" rx="9" ry="9"/><g class="r" transform="translate(948,511)"><path class="i" d="M2-4L-3,1L-1,7L5,6L8,1ZM2-4L2,1L5,6M-3,1L2,1L8,1"/><circle cx="2" cy="-4" r="1.2"/><circle cx="-3" cy="1" r="1.2"/><circle cx="2" cy="1" r="1.2"/><circle cx="8" cy="1" r="1.2"/><circle cx="-1" cy="7" r="1.3"/><circle cx="5" cy="6" r="1.2"/></g><text class="m" x="952" y="500">ameboidal migration epithelium</text></g>
<g id="n161"><ellipse class="c" cx="880" cy="545" rx="12" ry="17"/><g class="r" transform="translate(880,545)"><path class="i" d="M-2-8L3-8L6-4L6,2L10,7L7,12L2,8L-5,7L-6,1L-7-4ZM0,1L-2-8M0,1L3-8M0,1L6,2M0,1L-6,1M0,1L2,8M-3,15L-5,7"/><circle cx="-2" cy="-8" r="1.3"/><circle cx="3" cy="-8" r="1.3"/><circle cx="-6" cy="1" r="1.8"/><circle cx="0" cy="1" r="1.8"/><circle cx="6" cy="2" r="1.6"/><circle cx="-5" cy="7" r="1.3"/><circle cx="2" cy="8" r="1.3"/><circle cx="7" cy="12" r="1.5"/><circle cx="-3" cy="15" r="1.2"/><circle cx="10" cy="7" r="1.2"/><circle cx="-7" cy="-4" r="1.2"/><circle cx="6" cy="-4" r="1.2"/></g><text class="l" x="876" y="525">fibrin coagulation cascades</text></g>
<g id="n162"><ellipse class="c" cx="1016" cy="546" rx="18" ry="17"/><g class="r" transform="translate(1016,546)"><path class="i" d="M2-9L7-9L11-1L14,8L7,14L-1,9L-6,8L-12,1L-7-3ZM-3-6L1-1L6-3ZM-3,4L2,4L1-1L-3-6L-7-3M2-9L-3-6M7-9L6-3L11-1M-3,4L-1,9M2,4L7,14M-12,1L-3,4"/><circle cx="-3" cy="-6" r="1.4"/><circle cx="2" cy="-9" r="1.4"/><circle cx="7" cy="-9" r="1.4"/><circle cx="-7" cy="-3" r="1.4"/><circle cx="1" cy="-1" r="1.4"/><circle cx="6" cy="-3" r="1.3"/><circle cx="11" cy="-1" r="1.3"/><circle cx="-12" cy="1" r="1.3"/><circle cx="-3" cy="4" r="1.2"/><circle cx="2" cy="4" r="1.4"/><circle cx="-6" cy="8" r="1.2"/><circle cx="-1" cy="9" r="1.3"/><circle cx="7" cy="14" r="1.6"/><circle cx="14" cy="8" r="1.2"/></g><text class="x" x="1017" y="528">stem neural crest</text></g>
<g id="n163"><ellipse class="c" cx="1145" cy="541" rx="17" ry="20"/><g class="r" transform="translate(1145,541)"><path class="i" d="M-2-12L5-9L7-3L10,2L7,9L0,9L-4,14L-8,7L-12,1L-11-2L-8-6ZM0-4L-4,1L3,3ZM-2-12L0-4L5-9M7-3L0-4M-8-6L0-4M10,2L3,3L0,9M-12,1L-4,1L-8,7"/><circle cx="-2" cy="-12" r="1.3"/><circle cx="5" cy="-9" r="1.3"/><circle cx="-8" cy="-6" r="1.3"/><circle cx="0" cy="-4" r="1.5"/><circle cx="7" cy="-3" r="1.3"/><circle cx="-12" cy="1" r="1.3"/><circle cx="-4" cy="1" r="1.4"/><circle cx="3" cy="3" r="1.5"/><circle cx="10" cy="2" r="1.3"/><circle cx="-8" cy="7" r="1.7"/><circle cx="0" cy="9" r="1.3"/><circle cx="7" cy="9" r="1.3"/><circle cx="-4" cy="14" r="1.3"/><circle cx="-11" cy="-2" r="1.2"/></g><text class="x" x="1145" y="516">adhesion assembly junction</text></g>
<g id="n164"><ellipse class="c" cx="1078" cy="570" rx="14" ry="13"/><g class="r" transform="translate(1078,570)"><path class="i" d="M-3-7L1,1L7-1M-7,2L1,1L0,9M-7,8L1,1"/><circle cx="-3" cy="-7" r="1.2"/><circle cx="-7" cy="2" r="1.2"/><circle cx="1" cy="1" r="1.7"/><circle cx="7" cy="-1" r="1.2"/><circle cx="-7" cy="8" r="1.2"/><circle cx="0" cy="9" r="1.3"/></g><text class="m" x="1078" y="555">dendritic spine spreading</text></g>
<g id="n165"><ellipse class="c" cx="957" cy="592" rx="17" ry="11"/><g class="r" transform="translate(957,592)"><path class="i" d="M-8-2L0-4L5-5L10-4L13,5L5,8L-1,9L-7,7L-11,3ZM-5,3L1,2L7,1ZM-8-2L-5,3M0-4L1,2M10-4L7,1M-7,7L-5,3M-1,9L1,2M5,8L7,1L13,5M-3-7L0-4"/><circle cx="-8" cy="-2" r="1.3"/><circle cx="0" cy="-4" r="1.4"/><circle cx="5" cy="-5" r="1.4"/><circle cx="10" cy="-4" r="1.3"/><circle cx="-11" cy="3" r="1.3"/><circle cx="-5" cy="3" r="1.4"/><circle cx="1" cy="2" r="1.5"/><circle cx="7" cy="1" r="1.4"/><circle cx="13" cy="5" r="1.7"/><circle cx="-7" cy="7" r="1.3"/><circle cx="-1" cy="9" r="1.3"/><circle cx="5" cy="8" r="1.3"/><circle cx="-3" cy="-7" r="1.2"/></g><text class="x" x="962" y="579">coagulation wounding hemostasis</text></g>
<g id="n166"><ellipse class="c" cx="1174" cy="599" rx="13" ry="13"/><g class="r" transform="translate(1174,599)"><path class="i" d="M-1-8L1,2L-5-2M1,2L5-3M1,2L11,0M1,2L-7,6M1,2L7,6M1,2L0,10"/><circle cx="-1" cy="-8" r="1.2"/><circle cx="-5" cy="-2" r="1.3"/><circle cx="5" cy="-3" r="1.3"/><circle cx="1" cy="2" r="1.7"/><circle cx="11" cy="0" r="1.2"/><circle cx="-7" cy="6" r="1.2"/><circle cx="7" cy="6" r="1.2"/><circle cx="0" cy="10" r="1.2"/></g><text class="m" x="1171" y="584">binomial osteoblast ossification</text></g>
<g id="n167"><ellipse class="c" cx="897" cy="607" rx="6" ry="8"/><g class="r" transform="translate(897,607)"><circle cx="1" cy="-3" r="1.2"/><circle cx="1" cy="5" r="1.2"/></g><text class="s" x="901" y="597">dna signaling pathway</text></g>
<g id="n168"><ellipse class="c" cx="1031" cy="624" rx="9" ry="7"/><g class="r" transform="translate(1031,624)"><circle cx="7" cy="-2" r="1.2"/><circle cx="0" cy="5" r="1.2"/></g><text class="s" x="1028" y="614">cellular fatty acid</text></g>
<g id="n169"><ellipse class="c" cx="1081" cy="627" rx="10" ry="9"/><g class="r" transform="translate(1081,627)"><path class="i" d="M1-5L-4,0L2,2L7,3L3,8L-3,7L2,2"/><circle cx="1" cy="-5" r="1.2"/><circle cx="-4" cy="0" r="1.6"/><circle cx="2" cy="2" r="1.2"/><circle cx="7" cy="3" r="1.2"/><circle cx="-3" cy="7" r="1.2"/><circle cx="3" cy="8" r="1.2"/></g><text class="m" x="1083" y="618">telencephalon cerebral forebrain</text></g>
<g id="n170"><ellipse class="c" cx="925" cy="640" rx="8" ry="8"/><g class="r" transform="translate(925,640)"><path class="i" d="M6-3L0,1L7,4L0,6Z"/><circle cx="6" cy="-3" r="1.2"/><circle cx="0" cy="1" r="1.2"/><circle cx="7" cy="4" r="1.2"/><circle cx="0" cy="6" r="1.2"/></g><text class="s" x="924" y="629">mucosa cell immune response</text></g>
<g id="n171"><ellipse class="c" cx="1013" cy="660" rx="12" ry="11"/><g class="r" transform="translate(1013,660)"><path class="i" d="M0-5L-5,1L0,7L5,1ZM0-5L8-4L5,1M-8,6L-5,1"/><circle cx="0" cy="-5" r="1.3"/><circle cx="-5" cy="1" r="1.3"/><circle cx="5" cy="1" r="1.3"/><circle cx="0" cy="7" r="1.3"/><circle cx="8" cy="-4" r="1.2"/><circle cx="-8" cy="6" r="1.2"/></g><text class="m" x="1019" y="648">germ mesoderm endoderm</text></g>
<g id="n172"><ellipse class="c" cx="895" cy="680" rx="13" ry="19"/><g class="r" transform="translate(895,680)"><path class="i" d="M0-9L8-8L9,0L3-1L-3-3ZM3-1L1,5L-6,14M1,5L8,14M0-9L3-1"/><circle cx="0" cy="-9" r="1.3"/><circle cx="8" cy="-8" r="1.3"/><circle cx="-3" cy="-3" r="1.3"/><circle cx="3" cy="-1" r="1.3"/><circle cx="9" cy="0" r="1.3"/><circle cx="1" cy="5" r="1.9"/><circle cx="-6" cy="14" r="1.2"/><circle cx="8" cy="14" r="1.2"/></g><text class="m" x="892" y="660">antimicrobial molecule bacterial</text></g>
<g id="n173"><ellipse class="c" cx="1240" cy="497" rx="7" ry="6"/><g class="r" transform="translate(1240,497)"><path class="i" d="M-3-1L5,1"/><circle cx="-3" cy="-1" r="1.2"/><circle cx="5" cy="1" r="1.2"/></g><text class="s" x="1241" y="489">molecules elastic fibres</text></g>
<g id="n174"><ellipse class="c" cx="1290" cy="517" rx="8" ry="7"/><g class="r" transform="translate(1290,517)"><path class="i" d="M-2,3L5-4"/><circle cx="-2" cy="3" r="1.3"/><circle cx="5" cy="-4" r="1.2"/></g><text class="s" x="1292" y="509">phosphatidylinositol 3 kinase</text></g>
<g id="n175"><ellipse class="c" cx="1273" cy="564" rx="10" ry="10"/><g class="r" transform="translate(1273,564)"><path class="i" d="M2-5L-5-1L1,1L8,0ZM1,1L-2,7L5,6Z"/><circle cx="2" cy="-5" r="1.2"/><circle cx="-5" cy="-1" r="1.6"/><circle cx="1" cy="1" r="1.3"/><circle cx="8" cy="0" r="1.3"/><circle cx="-2" cy="7" r="1.6"/><circle cx="5" cy="6" r="1.3"/></g><text class="m" x="1274" y="551">tyrosine phosphorylation stat</text></g>
</svg>
